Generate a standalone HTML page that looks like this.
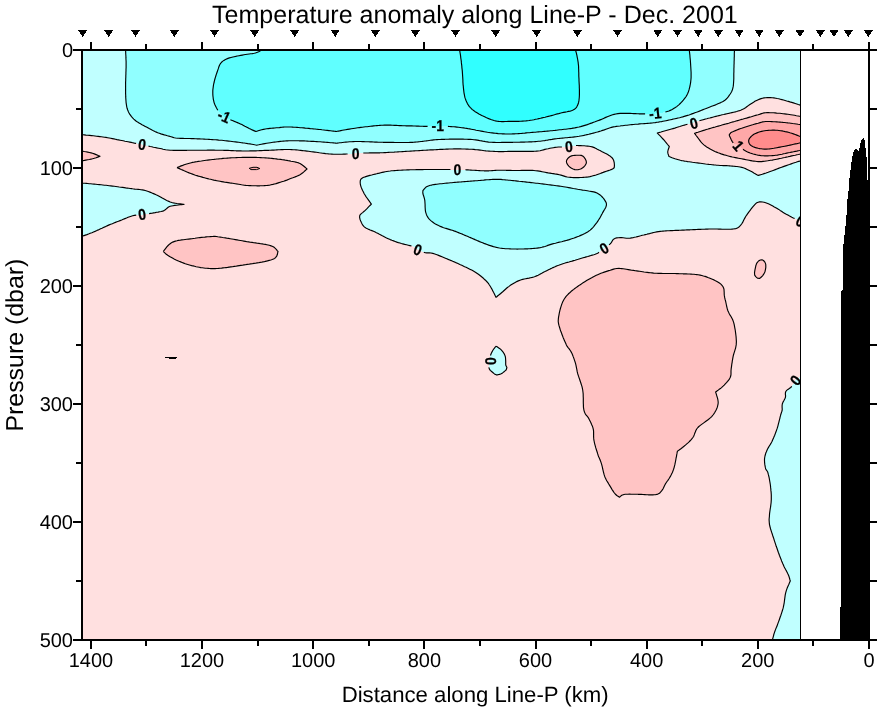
<!DOCTYPE html>
<html><head><meta charset="utf-8"><title>Temperature anomaly along Line-P - Dec. 2001</title>
<style>html,body{margin:0;padding:0;background:#fff}body{width:878px;height:708px;position:relative;overflow:hidden;font-family:"Liberation Sans",Arial,sans-serif}
svg text{font-family:"Liberation Sans",Arial,sans-serif;fill:#000}
</style></head><body>
<svg width="878" height="708" viewBox="0 0 878 708" style="position:absolute;left:0;top:0" shape-rendering="crispEdges">
<rect x="0" y="0" width="878" height="708" fill="#fff"/>
<rect x="82" y="50" width="718.5" height="589.5" fill="#FFE0E0"/>
<path d="M82.0 50.0 L82.0 134.7 L83.0 134.8 L84.3 134.9 L85.9 135.1 L87.7 135.2 L89.6 135.4 L91.5 135.6 L93.3 135.8 L95.0 136.0 L96.6 136.2 L98.2 136.4 L99.8 136.6 L101.3 136.8 L102.9 137.0 L104.5 137.2 L106.0 137.4 L107.6 137.7 L109.2 138.0 L110.7 138.3 L112.3 138.6 L113.9 138.9 L115.4 139.2 L117.0 139.6 L118.5 139.9 L120.1 140.2 L121.7 140.5 L123.3 140.8 L124.9 141.2 L126.5 141.5 L128.1 141.8 L129.7 142.1 L131.2 142.4 L132.6 142.7 L134.4 143.1 L136.1 143.4 L137.7 143.7 L139.2 144.0 L140.7 144.3 L142.2 144.6 L143.9 145.0 L145.4 145.4 L146.9 145.7 L148.5 146.1 L150.2 146.5 L151.8 146.8 L153.4 147.2 L155.1 147.5 L156.8 147.9 L158.5 148.2 L160.2 148.5 L161.7 148.8 L163.0 149.2 L164.3 149.5 L165.7 149.8 L167.7 150.0 L170.2 150.2 L171.4 150.2 L172.6 150.3 L174.0 150.3 L175.4 150.3 L176.9 150.3 L178.5 150.3 L180.1 150.3 L181.8 150.3 L183.5 150.3 L185.2 150.3 L187.0 150.3 L188.7 150.2 L190.4 150.2 L192.1 150.2 L193.7 150.2 L195.3 150.2 L196.9 150.2 L198.4 150.2 L200.0 150.2 L201.6 150.2 L203.1 150.2 L204.7 150.2 L206.2 150.2 L207.8 150.1 L209.4 150.1 L210.9 150.1 L212.5 150.1 L214.0 150.1 L215.6 150.2 L217.2 150.2 L218.7 150.2 L220.3 150.2 L221.9 150.2 L223.4 150.3 L225.0 150.3 L226.6 150.4 L228.1 150.4 L229.7 150.5 L231.3 150.6 L232.9 150.6 L234.4 150.7 L236.0 150.8 L237.6 150.8 L239.1 150.9 L240.7 150.9 L242.3 151.0 L243.8 151.0 L245.4 151.0 L247.0 151.0 L248.6 151.0 L250.2 150.9 L251.8 150.9 L253.4 150.9 L255.0 150.8 L256.6 150.8 L258.2 150.7 L259.8 150.6 L261.4 150.6 L263.0 150.5 L264.5 150.4 L266.0 150.4 L267.5 150.3 L269.0 150.3 L270.4 150.2 L272.1 150.1 L273.7 150.1 L275.3 150.0 L276.8 149.9 L278.3 149.8 L279.8 149.7 L281.2 149.6 L282.7 149.6 L284.1 149.5 L285.6 149.5 L287.0 149.5 L288.5 149.5 L290.0 149.5 L291.5 149.6 L293.1 149.7 L294.6 149.8 L296.1 149.9 L297.7 150.0 L299.2 150.2 L300.7 150.4 L302.3 150.6 L303.8 150.8 L305.4 150.9 L306.9 151.1 L308.5 151.3 L310.0 151.5 L311.5 151.7 L313.1 151.9 L314.7 152.1 L316.3 152.3 L317.8 152.5 L319.4 152.8 L321.0 153.0 L322.6 153.2 L324.1 153.4 L325.6 153.6 L327.1 153.7 L328.6 153.9 L330.1 154.0 L331.8 154.1 L333.6 154.2 L335.3 154.2 L337.1 154.2 L338.8 154.2 L340.4 154.2 L342.0 154.2 L343.6 154.1 L345.0 154.1 L346.4 154.0 L347.6 154.0 L349.8 153.9 L351.4 153.8 L352.7 153.6 L354.0 153.4 L355.6 153.3 L357.0 153.2 L358.5 153.2 L360.0 153.1 L361.6 153.1 L363.3 153.0 L365.2 153.0 L366.6 153.0 L368.2 153.0 L369.8 152.9 L371.5 152.9 L373.2 152.9 L374.9 152.9 L376.7 152.9 L378.4 152.8 L380.0 152.8 L381.5 152.7 L382.9 152.7 L384.2 152.6 L385.5 152.6 L386.9 152.5 L388.4 152.4 L390.0 152.3 L391.9 152.2 L394.1 152.1 L395.3 152.0 L396.6 152.0 L398.0 151.9 L399.4 151.8 L400.9 151.7 L402.5 151.6 L404.1 151.5 L405.7 151.4 L407.4 151.3 L409.0 151.2 L410.7 151.1 L412.4 151.0 L414.2 150.9 L415.8 150.8 L417.5 150.7 L419.2 150.6 L420.8 150.5 L422.4 150.4 L424.0 150.3 L425.6 150.2 L427.2 150.1 L428.8 150.0 L430.4 149.9 L432.1 149.8 L433.7 149.8 L435.3 149.7 L436.9 149.6 L438.6 149.5 L440.1 149.4 L441.7 149.3 L443.3 149.3 L444.8 149.2 L446.3 149.1 L447.8 149.1 L449.2 149.0 L450.6 149.0 L452.3 149.0 L454.0 148.9 L455.7 148.9 L457.3 148.9 L458.9 148.9 L460.5 148.9 L462.0 149.0 L463.5 149.0 L464.9 149.0 L466.4 149.1 L467.8 149.1 L469.1 149.2 L470.5 149.2 L471.8 149.3 L473.6 149.4 L475.3 149.6 L477.0 149.7 L478.5 149.9 L480.1 150.1 L481.6 150.3 L483.0 150.5 L484.5 150.7 L485.9 150.9 L487.3 151.0 L489.0 151.1 L490.7 151.2 L492.4 151.3 L494.0 151.4 L495.6 151.5 L497.1 151.5 L498.6 151.6 L500.0 151.6 L501.8 151.6 L503.4 151.6 L504.9 151.5 L506.5 151.5 L508.1 151.4 L510.0 151.4 L511.4 151.4 L512.8 151.4 L514.4 151.4 L515.9 151.4 L517.6 151.4 L519.2 151.4 L520.8 151.4 L522.4 151.4 L524.0 151.4 L525.6 151.4 L527.2 151.4 L528.9 151.4 L530.6 151.3 L532.2 151.3 L533.8 151.3 L535.3 151.2 L536.8 151.1 L538.1 151.0 L540.1 150.7 L541.8 150.3 L543.4 149.9 L544.9 149.4 L546.6 149.0 L548.2 148.7 L549.9 148.3 L551.6 148.0 L553.4 147.7 L555.0 147.4 L556.5 147.2 L558.5 147.0 L560.3 147.0 L561.9 147.0 L563.5 147.0 L565.5 146.8 L567.4 146.6 L569.2 146.4 L570.7 146.1 L572.2 145.7 L574.8 145.5 L576.0 145.5 L577.4 145.5 L579.0 145.6 L580.7 145.6 L582.4 145.7 L584.2 145.8 L585.9 146.0 L587.6 146.1 L589.1 146.3 L590.4 146.5 L592.2 146.9 L593.6 147.4 L594.9 147.9 L596.1 148.5 L597.3 149.2 L598.8 150.0 L600.1 150.6 L601.6 151.4 L603.2 152.2 L604.7 153.0 L606.3 153.8 L607.7 154.6 L609.0 155.4 L610.1 156.1 L612.0 157.7 L613.0 159.1 L613.7 160.6 L614.2 162.5 L614.4 164.5 L614.4 166.2 L614.2 167.7 L612.9 168.8 L611.7 169.4 L610.1 170.0 L608.3 170.6 L606.4 171.2 L604.5 171.9 L603.2 172.4 L601.8 172.9 L600.4 173.5 L598.9 174.0 L597.5 174.5 L596.0 175.0 L594.6 175.4 L593.0 175.8 L591.5 176.2 L590.0 176.6 L588.4 176.9 L586.7 177.1 L584.7 177.3 L583.4 177.4 L581.9 177.5 L580.3 177.5 L578.6 177.6 L577.0 177.6 L575.3 177.6 L573.6 177.6 L572.0 177.5 L570.5 177.4 L569.2 177.3 L567.3 177.0 L565.6 176.6 L564.1 176.1 L562.6 175.6 L561.0 175.1 L559.3 174.7 L557.8 174.4 L556.3 174.1 L554.7 173.9 L553.1 173.6 L551.5 173.4 L549.8 173.1 L548.2 172.9 L546.6 172.6 L545.1 172.3 L543.6 172.0 L542.1 171.7 L540.7 171.4 L539.2 171.1 L537.6 170.9 L535.8 170.7 L533.9 170.5 L532.6 170.4 L531.2 170.4 L529.7 170.4 L528.1 170.4 L526.5 170.4 L524.9 170.4 L523.3 170.4 L521.6 170.4 L520.0 170.5 L518.4 170.5 L516.9 170.5 L515.5 170.5 L514.1 170.5 L512.3 170.5 L510.6 170.4 L509.0 170.4 L507.5 170.3 L506.0 170.3 L504.5 170.2 L503.1 170.2 L501.6 170.2 L500.0 170.2 L498.4 170.2 L496.9 170.3 L495.4 170.4 L493.8 170.5 L492.3 170.6 L490.7 170.7 L489.0 170.8 L487.3 170.8 L485.4 170.8 L484.0 170.8 L482.5 170.7 L480.9 170.7 L479.3 170.6 L477.6 170.5 L475.8 170.4 L474.1 170.3 L472.5 170.2 L470.8 170.1 L469.3 170.0 L467.9 169.9 L466.6 169.9 L465.4 169.8 L463.0 169.7 L461.3 169.7 L460.0 169.6 L458.7 169.6 L457.4 169.6 L455.9 169.6 L454.7 169.5 L453.0 169.5 L450.4 169.5 L449.3 169.5 L448.0 169.5 L446.7 169.5 L445.2 169.5 L443.6 169.5 L442.0 169.5 L440.3 169.5 L438.6 169.5 L436.9 169.5 L435.2 169.5 L433.5 169.5 L431.9 169.5 L430.3 169.5 L428.8 169.5 L427.2 169.5 L425.7 169.5 L424.1 169.5 L422.6 169.6 L421.1 169.6 L419.5 169.6 L418.0 169.6 L416.5 169.6 L414.9 169.7 L413.4 169.7 L411.8 169.7 L410.3 169.8 L408.7 169.9 L407.2 169.9 L405.6 170.0 L404.0 170.0 L402.3 170.1 L400.7 170.2 L399.1 170.3 L397.6 170.4 L396.0 170.5 L394.5 170.6 L393.0 170.7 L391.6 170.8 L390.2 171.0 L388.5 171.2 L386.8 171.5 L385.2 171.8 L383.7 172.1 L382.2 172.4 L380.8 172.7 L379.4 173.1 L378.0 173.4 L376.6 173.8 L375.2 174.1 L373.4 174.5 L371.7 175.0 L369.9 175.4 L368.2 175.9 L366.5 176.4 L365.1 176.9 L363.8 177.3 L362.7 177.8 L361.0 179.0 L360.4 180.2 L360.2 181.6 L360.2 183.0 L360.4 184.5 L360.8 186.1 L361.4 187.8 L362.0 189.2 L362.6 190.6 L363.4 192.1 L364.2 193.7 L365.2 195.3 L366.0 196.6 L367.0 198.0 L368.0 199.4 L369.1 200.9 L370.0 202.2 L370.8 203.3 L371.4 204.1 L370.5 205.0 L369.3 206.2 L367.9 207.6 L366.5 209.1 L365.2 210.4 L363.9 211.5 L362.6 212.6 L361.3 213.6 L360.3 214.6 L359.7 215.8 L359.6 217.4 L360.0 219.2 L360.7 221.0 L361.4 222.6 L362.1 224.0 L362.8 225.2 L363.8 226.4 L365.2 227.6 L366.3 228.2 L367.5 228.8 L368.8 229.4 L370.2 230.0 L371.8 230.6 L373.5 231.3 L375.2 232.1 L376.4 232.7 L377.7 233.3 L379.0 234.0 L380.4 234.7 L381.8 235.5 L383.3 236.2 L384.7 237.0 L386.1 237.7 L387.6 238.4 L388.9 239.0 L390.2 239.6 L391.9 240.3 L393.6 240.9 L395.2 241.5 L396.8 242.1 L398.4 242.6 L399.9 243.0 L401.4 243.5 L402.8 243.9 L404.7 244.4 L406.5 244.8 L408.3 245.2 L409.9 245.6 L411.5 246.0 L412.8 246.4 L414.7 247.5 L416.1 248.6 L417.8 249.7 L419.1 250.4 L420.6 251.0 L422.2 251.7 L423.8 252.3 L425.3 252.7 L426.7 252.9 L428.1 252.9 L429.4 252.9 L431.0 253.0 L432.8 253.4 L434.1 253.8 L435.5 254.3 L437.0 254.8 L438.6 255.4 L440.3 256.1 L442.0 256.8 L443.7 257.5 L445.4 258.2 L446.8 258.8 L448.2 259.4 L449.7 260.0 L451.2 260.6 L452.7 261.3 L454.3 261.9 L455.8 262.6 L457.4 263.3 L458.9 264.0 L460.4 264.7 L461.8 265.3 L463.2 266.0 L464.6 266.7 L466.1 267.3 L467.5 268.0 L468.9 268.7 L470.3 269.4 L471.7 270.1 L473.0 270.8 L474.2 271.5 L475.4 272.2 L476.9 273.2 L478.4 274.2 L479.7 275.2 L481.0 276.3 L482.2 277.3 L483.4 278.3 L484.4 279.3 L485.4 280.2 L486.7 281.5 L487.7 282.6 L488.6 283.7 L489.4 285.0 L490.4 286.5 L491.1 287.7 L491.9 289.1 L492.7 290.7 L493.5 292.3 L494.3 293.8 L495.0 295.3 L495.6 296.4 L496.0 297.3 L496.8 296.7 L497.8 295.8 L499.1 294.8 L500.4 293.7 L501.8 292.5 L503.0 291.5 L504.1 290.5 L505.2 289.5 L506.3 288.5 L507.4 287.5 L508.7 286.6 L510.0 285.6 L511.2 284.8 L512.5 284.0 L513.8 283.2 L515.2 282.4 L516.7 281.6 L518.3 280.9 L520.0 280.2 L521.3 279.8 L522.7 279.4 L524.2 279.0 L525.8 278.7 L527.4 278.4 L529.0 278.1 L530.6 277.7 L532.2 277.4 L533.7 277.0 L535.1 276.5 L536.6 275.9 L538.1 275.3 L539.5 274.6 L540.8 273.8 L542.2 273.1 L543.5 272.3 L544.9 271.6 L546.2 270.9 L547.6 270.2 L549.0 269.5 L550.3 268.9 L551.7 268.3 L553.0 267.6 L554.4 267.0 L555.7 266.4 L557.2 265.8 L558.6 265.3 L560.1 264.7 L561.5 264.2 L562.9 263.7 L564.4 263.3 L565.9 262.8 L567.4 262.4 L569.0 262.0 L570.5 261.5 L572.1 261.1 L573.6 260.6 L575.1 260.2 L576.6 259.7 L578.2 259.3 L579.9 258.8 L581.5 258.3 L583.1 257.8 L584.7 257.4 L586.2 256.9 L587.7 256.5 L589.0 256.1 L590.2 255.7 L592.2 255.1 L593.8 254.7 L595.2 254.3 L596.4 253.8 L597.7 253.2 L599.0 252.3 L600.3 251.3 L601.5 250.3 L602.8 249.2 L604.0 248.2 L605.3 247.3 L606.6 246.5 L607.9 245.6 L609.1 244.8 L610.2 243.9 L611.3 242.6 L612.1 241.2 L612.9 239.9 L614.0 238.9 L615.3 238.3 L616.7 237.9 L618.3 237.7 L620.2 237.6 L621.6 237.6 L623.1 237.8 L624.7 238.0 L626.4 238.2 L628.3 238.2 L630.3 238.1 L631.6 237.9 L633.0 237.7 L634.4 237.3 L635.9 237.0 L637.5 236.6 L639.1 236.2 L640.6 235.8 L642.2 235.3 L643.8 235.0 L645.3 234.6 L646.8 234.3 L648.1 233.9 L649.5 233.6 L650.8 233.2 L652.2 232.9 L653.6 232.5 L655.1 232.2 L656.7 231.9 L658.4 231.6 L660.3 231.4 L661.6 231.3 L663.0 231.1 L664.4 231.0 L665.9 230.9 L667.4 230.8 L669.0 230.7 L670.6 230.6 L672.2 230.6 L673.9 230.5 L675.5 230.4 L677.2 230.3 L678.9 230.3 L680.5 230.2 L682.2 230.1 L683.8 230.1 L685.4 230.0 L687.0 229.9 L688.6 229.8 L690.1 229.8 L691.7 229.7 L693.3 229.6 L694.9 229.6 L696.5 229.5 L698.1 229.4 L699.7 229.3 L701.3 229.3 L702.8 229.2 L704.4 229.2 L705.9 229.1 L707.5 229.1 L709.0 229.0 L710.5 229.0 L712.1 229.0 L713.8 229.0 L715.4 229.0 L717.1 229.0 L718.8 229.1 L720.5 229.1 L722.1 229.2 L723.8 229.2 L725.3 229.2 L726.8 229.2 L728.3 229.2 L729.7 229.2 L731.0 229.2 L732.1 229.1 L733.2 229.0 L735.7 228.6 L737.4 228.0 L738.6 227.3 L739.6 226.3 L740.7 225.2 L741.6 224.0 L742.5 222.7 L743.2 221.2 L743.9 219.7 L744.8 218.1 L745.7 216.5 L746.5 215.3 L747.5 213.9 L748.4 212.6 L749.5 211.2 L750.5 209.8 L751.4 208.5 L752.4 207.4 L753.2 206.4 L754.6 204.8 L755.7 203.6 L756.8 202.8 L758.2 202.2 L759.5 201.9 L760.9 201.8 L762.4 202.0 L764.0 202.2 L765.7 202.7 L767.0 203.2 L768.4 203.8 L769.9 204.5 L771.3 205.2 L772.8 206.0 L774.3 206.9 L775.8 207.7 L777.2 208.5 L778.7 209.4 L780.1 210.4 L781.5 211.3 L782.9 212.3 L784.4 213.2 L785.8 214.0 L787.3 214.8 L788.8 215.6 L790.4 216.4 L791.9 217.2 L793.3 217.9 L794.6 218.5 L795.8 219.0 L797.9 219.7 L799.5 220.0 L800.5 220.2 L800.5 50.0Z" fill="#C0FFFF"/>
<path d="M800.5 105.2 L799.6 104.9 L798.3 104.5 L796.8 104.0 L795.2 103.5 L793.4 102.9 L791.7 102.4 L789.9 101.9 L788.3 101.4 L786.7 101.0 L785.1 100.5 L783.5 100.0 L781.9 99.6 L780.3 99.2 L778.8 98.8 L777.2 98.5 L775.8 98.2 L773.9 97.9 L772.2 97.7 L770.4 97.6 L768.8 97.6 L767.2 97.6 L765.7 97.7 L764.0 97.9 L762.5 98.2 L761.1 98.6 L759.7 99.1 L758.2 99.7 L756.7 100.4 L755.3 101.1 L753.9 102.0 L752.4 102.9 L750.7 103.9 L749.5 104.7 L748.3 105.6 L747.1 106.5 L745.8 107.5 L744.4 108.4 L742.7 109.3 L740.7 110.2 L739.5 110.6 L738.1 111.0 L736.7 111.5 L735.2 111.9 L733.6 112.2 L731.9 112.6 L730.3 113.0 L728.6 113.4 L726.9 113.7 L725.3 114.1 L723.7 114.5 L722.1 114.8 L720.6 115.2 L719.0 115.6 L717.4 116.0 L715.9 116.4 L714.3 116.8 L712.7 117.2 L711.2 117.6 L709.7 118.0 L708.2 118.3 L706.8 118.7 L705.5 119.0 L704.3 119.4 L703.1 119.7 L701.1 120.3 L699.4 120.8 L697.9 121.3 L696.5 121.8 L695.2 122.2 L693.8 122.6 L692.2 123.0 L690.7 123.4 L689.1 123.8 L687.5 124.2 L685.6 124.7 L684.3 125.1 L682.8 125.5 L681.3 126.0 L679.8 126.5 L678.1 127.0 L676.5 127.5 L674.8 128.1 L673.0 128.6 L671.5 129.0 L669.8 129.5 L668.0 130.0 L666.2 130.5 L664.4 131.0 L662.6 131.5 L661.0 132.0 L659.5 132.4 L658.2 132.7 L657.3 133.0 L658.1 133.8 L659.1 134.9 L660.4 136.2 L661.7 137.6 L663.0 139.0 L664.1 140.2 L665.3 141.7 L666.5 143.1 L667.6 144.5 L668.6 145.7 L669.3 146.5 L668.8 148.0 L668.1 150.0 L667.7 152.0 L668.0 153.7 L668.6 155.4 L669.0 156.5 L669.8 156.8 L670.8 157.2 L672.1 157.7 L673.5 158.2 L675.0 158.8 L676.7 159.3 L678.5 159.8 L680.4 160.3 L681.7 160.6 L683.0 160.8 L684.5 161.1 L686.0 161.3 L687.6 161.6 L689.2 161.8 L690.8 162.0 L692.5 162.3 L694.1 162.5 L695.8 162.7 L697.4 162.9 L698.9 163.1 L700.4 163.3 L702.1 163.5 L703.8 163.7 L705.6 164.0 L707.3 164.2 L709.0 164.4 L710.6 164.5 L712.2 164.7 L713.8 164.9 L715.3 165.0 L716.7 165.2 L718.0 165.3 L720.1 165.5 L721.8 165.5 L723.3 165.6 L724.7 165.6 L726.3 165.6 L728.2 165.8 L729.5 165.9 L730.9 166.0 L732.3 166.1 L733.9 166.2 L735.4 166.4 L737.0 166.5 L738.5 166.7 L740.1 167.0 L741.7 167.4 L743.2 167.8 L744.6 168.3 L746.1 168.9 L747.7 169.7 L749.3 170.5 L750.9 171.3 L752.4 172.1 L753.8 173.0 L755.2 173.7 L756.4 174.4 L757.4 175.0 L758.2 175.4 L759.2 175.1 L760.6 174.7 L762.3 174.2 L764.1 173.6 L766.1 173.0 L768.2 172.3 L769.5 171.8 L770.9 171.3 L772.3 170.8 L773.8 170.2 L775.3 169.6 L776.9 169.0 L778.5 168.4 L780.1 167.8 L781.7 167.2 L783.3 166.6 L784.7 166.1 L786.2 165.6 L787.9 165.0 L789.5 164.5 L791.2 163.9 L792.8 163.3 L794.4 162.8 L796.0 162.3 L797.4 161.8 L798.6 161.4 L799.7 161.1 L800.5 160.8Z" fill="#FFE0E0"/>
<path d="M800.5 116.5 L799.5 116.3 L798.1 116.0 L796.4 115.7 L794.6 115.3 L792.7 115.0 L790.8 114.7 L789.4 114.5 L787.9 114.3 L786.3 114.1 L784.7 113.9 L783.1 113.7 L781.5 113.5 L779.9 113.3 L778.3 113.2 L776.7 113.1 L775.0 112.9 L773.4 112.8 L771.7 112.7 L770.1 112.7 L768.5 112.6 L767.0 112.6 L765.7 112.7 L764.0 112.9 L762.7 113.2 L761.5 113.6 L760.1 114.1 L758.2 114.7 L757.0 115.0 L755.7 115.4 L754.3 115.8 L752.9 116.2 L751.3 116.7 L749.7 117.1 L748.1 117.6 L746.5 118.1 L744.8 118.5 L743.2 119.0 L741.8 119.4 L740.4 119.8 L739.0 120.2 L737.6 120.6 L736.1 121.0 L734.6 121.5 L733.1 121.9 L731.6 122.3 L730.1 122.7 L728.7 123.2 L727.2 123.6 L725.7 124.0 L724.2 124.4 L722.7 124.8 L721.2 125.3 L719.7 125.7 L718.2 126.1 L716.7 126.5 L715.2 127.0 L713.7 127.4 L712.2 127.8 L710.8 128.2 L709.4 128.6 L708.1 129.0 L706.3 129.5 L704.5 130.1 L702.8 130.6 L701.0 131.2 L699.4 131.7 L697.9 132.2 L696.5 132.6 L695.4 133.0 L694.5 133.3 L695.2 134.2 L696.1 135.5 L697.2 136.9 L698.4 138.5 L699.6 140.1 L700.7 141.6 L701.8 142.8 L703.1 144.1 L704.2 145.1 L705.4 146.0 L706.6 146.9 L708.1 147.8 L709.3 148.5 L710.6 149.3 L712.0 150.0 L713.4 150.7 L714.9 151.5 L716.5 152.1 L718.1 152.8 L719.6 153.3 L721.1 153.9 L722.6 154.4 L724.2 154.9 L725.9 155.3 L727.5 155.8 L729.1 156.2 L730.7 156.6 L732.3 157.0 L733.8 157.3 L735.3 157.6 L736.8 157.9 L738.3 158.2 L739.9 158.5 L741.5 158.8 L743.2 159.1 L744.6 159.4 L746.1 159.7 L747.6 160.0 L749.1 160.3 L750.7 160.6 L752.3 160.9 L753.8 161.1 L755.3 161.3 L756.8 161.5 L758.2 161.6 L759.9 161.6 L761.5 161.6 L763.1 161.4 L764.7 161.3 L766.2 161.0 L767.7 160.8 L769.2 160.5 L770.8 160.3 L772.3 160.1 L773.8 159.8 L775.3 159.5 L776.8 159.2 L778.3 158.9 L779.8 158.5 L781.5 158.2 L783.3 157.8 L784.8 157.5 L786.4 157.1 L788.1 156.8 L789.9 156.4 L791.8 155.9 L793.6 155.5 L795.3 155.2 L796.9 154.8 L798.4 154.5 L799.6 154.2 L800.5 154.0Z" fill="#FFC4C4"/>
<path d="M800.5 124.7 L799.5 124.5 L798.1 124.3 L796.4 124.0 L794.6 123.7 L792.7 123.5 L790.8 123.2 L789.4 123.0 L787.9 122.9 L786.3 122.7 L784.7 122.5 L783.1 122.4 L781.5 122.2 L779.9 122.1 L778.3 122.0 L776.7 121.9 L775.0 121.8 L773.4 121.7 L771.7 121.6 L770.1 121.5 L768.5 121.5 L767.0 121.5 L765.7 121.5 L764.0 121.7 L762.7 121.9 L761.5 122.2 L760.1 122.6 L758.2 123.2 L757.0 123.5 L755.6 123.9 L754.2 124.3 L752.6 124.8 L751.0 125.2 L749.4 125.7 L747.8 126.2 L746.2 126.7 L744.6 127.2 L743.2 127.7 L741.6 128.3 L740.0 128.8 L738.4 129.4 L736.9 130.0 L735.4 130.6 L733.9 131.2 L732.7 131.8 L731.6 132.3 L730.7 132.8 L729.3 134.6 L729.4 135.8 L729.9 136.8 L730.6 138.3 L731.4 140.0 L732.3 141.6 L733.2 142.8 L734.7 143.9 L736.4 144.4 L738.2 145.3 L739.3 146.2 L740.5 147.2 L741.7 148.3 L743.0 149.3 L744.4 150.3 L745.7 151.0 L747.1 151.7 L748.6 152.4 L750.1 153.0 L751.6 153.5 L753.2 154.0 L754.8 154.4 L756.3 154.8 L758.0 155.2 L759.6 155.4 L761.4 155.7 L763.2 155.8 L764.7 155.9 L766.2 155.9 L767.7 155.9 L769.3 155.8 L771.0 155.7 L772.6 155.6 L774.2 155.5 L775.8 155.3 L777.4 155.1 L778.9 154.8 L780.5 154.5 L782.1 154.2 L783.6 153.8 L785.2 153.5 L786.8 153.1 L788.3 152.8 L789.9 152.5 L791.7 152.1 L793.4 151.8 L795.2 151.4 L796.8 151.1 L798.3 150.7 L799.6 150.5 L800.5 150.3Z" fill="#FFA8A8"/>
<path d="M800.5 136.5 L799.6 136.2 L798.3 135.7 L796.8 135.1 L795.2 134.5 L793.4 133.9 L791.7 133.3 L789.9 132.8 L788.3 132.3 L786.8 131.9 L785.2 131.6 L783.6 131.2 L782.1 130.9 L780.5 130.7 L778.9 130.5 L777.4 130.3 L775.8 130.2 L774.2 130.1 L772.6 130.1 L771.0 130.2 L769.3 130.2 L767.7 130.4 L766.2 130.5 L764.7 130.7 L763.2 131.0 L761.6 131.4 L760.0 131.8 L758.4 132.3 L757.0 132.9 L755.6 133.5 L754.3 134.1 L753.2 134.8 L751.5 136.1 L750.2 137.5 L749.2 138.9 L748.7 140.3 L748.7 142.1 L749.4 143.8 L750.7 145.3 L751.8 146.1 L753.2 146.8 L754.8 147.4 L756.5 147.9 L758.2 148.3 L759.7 148.6 L761.2 148.8 L762.7 149.0 L764.4 149.1 L766.2 149.1 L768.2 149.0 L769.5 148.9 L770.9 148.7 L772.3 148.5 L773.8 148.3 L775.3 148.0 L776.9 147.7 L778.5 147.4 L780.1 147.1 L781.7 146.8 L783.3 146.5 L784.8 146.2 L786.5 145.9 L788.3 145.5 L790.1 145.1 L791.9 144.7 L793.7 144.3 L795.4 143.9 L797.0 143.6 L798.4 143.3 L799.6 143.0 L800.5 142.8Z" fill="#FF8C8C"/>
<path d="M82.0 183.0 L82.8 183.1 L83.8 183.2 L85.0 183.3 L86.3 183.4 L87.7 183.5 L89.2 183.7 L90.7 183.8 L92.4 184.0 L94.1 184.1 L95.8 184.3 L97.6 184.5 L99.3 184.6 L101.1 184.8 L102.8 185.0 L104.5 185.2 L106.1 185.3 L107.6 185.5 L109.2 185.7 L110.8 185.9 L112.5 186.1 L114.2 186.3 L115.9 186.5 L117.6 186.7 L119.2 187.0 L120.9 187.2 L122.6 187.4 L124.2 187.6 L125.7 187.9 L127.2 188.1 L128.7 188.3 L130.1 188.5 L131.4 188.6 L132.6 188.8 L134.8 189.1 L136.6 189.3 L138.2 189.4 L139.7 189.5 L141.0 189.7 L142.3 189.9 L143.7 190.1 L145.2 190.5 L146.8 191.0 L148.3 191.5 L149.9 192.1 L151.5 192.7 L153.0 193.4 L154.6 194.1 L156.1 194.8 L157.7 195.5 L159.1 196.2 L160.5 196.9 L161.8 197.7 L163.2 198.5 L164.6 199.3 L165.9 200.1 L167.3 200.8 L168.8 201.4 L170.2 202.0 L171.8 202.5 L173.4 202.9 L175.2 203.2 L177.0 203.5 L178.7 203.7 L180.4 203.9 L181.8 204.1 L183.1 204.3 L184.0 204.4 L183.0 204.5 L181.7 204.6 L180.1 204.8 L178.4 205.0 L176.6 205.2 L174.7 205.4 L173.0 205.7 L171.5 206.0 L170.2 206.3 L168.5 207.0 L167.3 208.0 L166.3 208.9 L165.3 209.8 L164.0 210.6 L162.7 211.1 L161.2 211.5 L159.7 211.8 L158.1 212.1 L156.6 212.3 L155.2 212.6 L153.6 212.9 L152.0 213.2 L150.5 213.4 L149.1 213.6 L147.7 213.8 L145.9 214.1 L144.3 214.3 L142.2 214.6 L140.9 214.7 L139.4 214.8 L137.8 214.9 L136.2 215.1 L134.4 215.4 L132.6 215.8 L131.2 216.2 L129.7 216.7 L128.1 217.3 L126.5 218.0 L124.9 218.6 L123.3 219.3 L121.7 220.0 L120.1 220.6 L118.5 221.2 L117.0 221.8 L115.4 222.4 L113.9 223.0 L112.3 223.7 L110.7 224.3 L109.2 224.9 L107.6 225.6 L106.2 226.2 L104.8 226.9 L103.4 227.5 L102.0 228.2 L100.6 228.8 L99.2 229.5 L97.8 230.1 L96.4 230.8 L95.0 231.4 L93.5 232.0 L91.9 232.7 L90.2 233.3 L88.5 234.0 L86.9 234.6 L85.4 235.1 L84.0 235.6 L82.9 236.1 L82.0 236.4Z" fill="#C0FFFF"/>
<path d="M800.5 376.7 L799.6 377.3 L798.3 378.1 L796.9 379.1 L795.6 380.2 L794.6 381.6 L793.8 383.2 L792.9 384.9 L791.8 386.4 L790.7 387.5 L789.3 388.5 L787.9 389.4 L786.7 390.4 L785.8 391.5 L785.4 392.9 L785.4 394.4 L785.6 395.9 L785.4 397.5 L784.7 399.1 L783.8 400.8 L782.9 402.4 L782.3 404.0 L782.1 405.6 L782.1 407.1 L782.2 408.6 L782.2 410.0 L781.9 411.2 L781.5 412.3 L780.8 414.5 L780.5 415.7 L780.1 417.1 L779.8 418.6 L779.3 420.3 L778.9 422.1 L778.4 423.9 L778.0 425.6 L777.5 427.3 L777.0 428.9 L776.4 430.6 L775.8 432.2 L775.2 433.9 L774.6 435.5 L773.9 437.1 L773.3 438.6 L772.6 440.0 L772.0 441.4 L771.1 443.1 L770.2 444.6 L769.3 446.0 L768.5 447.4 L767.7 448.8 L767.0 450.2 L766.4 451.7 L765.8 453.1 L765.4 454.5 L765.0 456.0 L764.7 457.5 L764.5 459.0 L764.5 460.7 L764.6 462.5 L764.8 464.4 L765.1 466.1 L765.4 467.7 L765.7 469.0 L766.6 470.3 L767.7 472.0 L768.0 473.1 L768.3 474.4 L768.7 475.9 L769.1 477.5 L769.4 479.2 L769.7 481.0 L770.0 482.7 L770.3 484.5 L770.5 485.9 L770.6 487.4 L770.8 488.8 L770.9 490.4 L771.1 491.9 L771.2 493.4 L771.3 495.0 L771.3 496.5 L771.3 498.1 L771.3 499.6 L771.2 501.1 L771.1 502.7 L770.9 504.3 L770.7 505.8 L770.5 507.4 L770.2 509.0 L770.0 510.5 L769.8 511.9 L769.6 513.3 L769.5 514.6 L769.4 516.5 L769.2 518.2 L769.1 519.8 L769.2 521.3 L769.3 522.8 L769.5 524.6 L769.8 526.0 L770.2 527.5 L770.6 529.0 L771.1 530.6 L771.6 532.2 L772.2 533.8 L772.7 535.5 L773.3 537.2 L773.8 538.6 L774.2 540.1 L774.7 541.6 L775.2 543.1 L775.7 544.7 L776.2 546.3 L776.8 547.8 L777.3 549.3 L777.8 550.8 L778.3 552.2 L778.9 553.7 L779.4 555.2 L780.0 556.7 L780.5 558.1 L781.1 559.5 L781.6 560.9 L782.2 562.2 L782.7 563.5 L783.3 564.8 L784.0 566.4 L784.8 568.0 L785.6 569.5 L786.4 570.9 L787.1 572.3 L787.7 573.6 L788.3 574.8 L789.1 576.8 L789.6 578.5 L790.0 580.0 L790.3 581.0 L789.9 581.8 L789.4 582.9 L788.9 584.2 L788.2 585.7 L787.5 587.3 L786.9 588.9 L786.3 590.6 L785.8 592.3 L785.5 593.7 L785.2 595.1 L785.0 596.6 L784.8 598.1 L784.6 599.6 L784.4 601.2 L784.2 602.8 L783.9 604.3 L783.6 605.9 L783.3 607.4 L782.9 608.9 L782.4 610.5 L781.9 612.1 L781.4 613.6 L780.9 615.2 L780.3 616.8 L779.8 618.3 L779.3 619.7 L778.8 621.1 L778.3 622.4 L777.7 624.1 L777.1 625.7 L776.5 627.2 L775.9 628.6 L775.4 629.9 L774.9 631.2 L774.5 632.4 L773.8 634.5 L773.3 636.6 L772.8 638.3 L772.5 639.5 L800.5 639.5Z" fill="#C0FFFF"/>
<path d="M496.2 346.2 L497.1 346.8 L498.4 347.7 L499.9 348.7 L501.2 349.9 L502.3 351.2 L503.5 352.7 L504.5 354.4 L505.2 356.2 L505.5 357.6 L505.6 359.2 L505.7 360.9 L505.7 362.6 L505.7 364.1 L505.8 365.2 L506.9 367.5 L506.3 369.7 L505.3 370.6 L504.0 371.8 L502.6 372.9 L501.2 373.7 L499.5 374.4 L497.7 374.8 L496.2 374.8 L494.4 373.9 L492.8 372.5 L491.6 371.5 L490.3 370.4 L489.4 369.2 L488.8 367.3 L488.8 365.2 L488.9 363.6 L489.2 361.8 L489.5 360.0 L489.8 358.5 L490.1 357.0 L490.5 355.5 L491.0 354.0 L491.9 352.1 L492.9 350.3 L493.9 348.8 L495.2 347.2 L496.2 346.2Z" fill="#C0FFFF"/>
<path d="M125.6 50.0 L125.6 50.9 L125.7 52.0 L125.7 53.2 L125.8 54.7 L125.9 56.2 L125.9 57.9 L126.0 59.7 L126.1 61.4 L126.1 63.2 L126.1 65.0 L126.1 66.4 L126.1 67.8 L126.0 69.3 L126.0 70.9 L125.9 72.5 L125.9 74.1 L125.8 75.7 L125.8 77.3 L125.7 78.9 L125.7 80.5 L125.6 82.1 L125.6 83.6 L125.6 85.1 L125.6 86.8 L125.6 88.5 L125.6 90.3 L125.6 92.0 L125.6 93.6 L125.7 95.3 L125.7 96.9 L125.8 98.4 L125.9 99.9 L126.0 101.3 L126.1 102.6 L126.4 104.7 L126.7 106.6 L127.1 108.3 L127.6 109.8 L128.2 111.3 L128.9 112.7 L129.7 114.1 L130.6 115.4 L131.5 116.7 L132.6 117.9 L133.8 119.1 L135.1 120.2 L136.3 121.2 L137.6 122.1 L139.0 122.9 L140.5 123.8 L142.0 124.7 L143.6 125.5 L145.2 126.4 L146.5 127.1 L147.8 127.8 L149.2 128.6 L150.6 129.3 L152.0 130.1 L153.4 130.8 L154.9 131.5 L156.3 132.1 L157.7 132.7 L159.3 133.3 L160.9 133.9 L162.6 134.4 L164.3 134.9 L165.9 135.3 L167.4 135.8 L168.9 136.1 L170.2 136.5 L171.9 137.0 L173.1 137.4 L174.2 137.7 L175.6 138.0 L177.7 138.2 L178.9 138.3 L180.2 138.4 L181.6 138.4 L183.0 138.4 L184.6 138.5 L186.2 138.5 L187.9 138.5 L189.7 138.5 L191.5 138.6 L193.4 138.6 L195.3 138.7 L196.7 138.8 L198.1 138.8 L199.5 138.9 L201.0 139.0 L202.6 139.0 L204.1 139.1 L205.7 139.2 L207.3 139.3 L209.0 139.4 L210.6 139.5 L212.2 139.6 L213.9 139.7 L215.5 139.8 L217.1 139.9 L218.7 140.1 L220.3 140.2 L221.9 140.3 L223.5 140.5 L225.2 140.7 L226.9 140.9 L228.6 141.1 L230.3 141.3 L232.0 141.5 L233.7 141.7 L235.4 141.9 L237.0 142.1 L238.6 142.3 L240.1 142.5 L241.5 142.7 L242.9 142.9 L244.2 143.0 L245.4 143.2 L247.8 143.6 L250.0 143.9 L251.8 144.2 L253.4 144.5 L254.7 144.8 L255.8 145.0 L256.7 145.2 L257.6 145.0 L258.7 144.8 L260.0 144.5 L261.5 144.2 L263.2 143.9 L264.9 143.6 L266.7 143.3 L268.5 143.0 L270.4 142.7 L271.7 142.5 L273.0 142.3 L274.4 142.1 L275.8 142.0 L277.3 141.8 L278.7 141.6 L280.3 141.4 L281.8 141.2 L283.4 141.1 L285.0 141.0 L286.6 140.8 L288.3 140.8 L290.0 140.7 L291.4 140.7 L292.9 140.7 L294.4 140.7 L296.0 140.7 L297.5 140.7 L299.1 140.8 L300.8 140.8 L302.4 140.9 L304.0 140.9 L305.7 141.0 L307.3 141.1 L308.9 141.2 L310.5 141.3 L312.0 141.3 L313.5 141.4 L315.0 141.5 L316.7 141.6 L318.4 141.7 L320.2 141.8 L322.0 142.0 L323.8 142.1 L325.5 142.3 L327.3 142.4 L328.9 142.5 L330.5 142.7 L332.0 142.8 L333.3 142.9 L334.5 143.0 L335.5 143.1 L336.4 143.2 L337.3 143.1 L338.4 143.0 L339.6 142.8 L341.0 142.7 L342.6 142.5 L344.2 142.3 L345.9 142.1 L347.7 142.0 L349.6 141.8 L351.4 141.7 L353.3 141.6 L355.1 141.5 L356.5 141.5 L357.9 141.5 L359.3 141.5 L360.8 141.5 L362.3 141.6 L363.8 141.6 L365.4 141.7 L367.0 141.7 L368.5 141.8 L370.1 141.9 L371.8 141.9 L373.4 142.0 L375.0 142.1 L376.7 142.1 L378.3 142.2 L380.0 142.2 L381.5 142.2 L383.1 142.3 L384.7 142.3 L386.3 142.3 L388.0 142.3 L389.7 142.4 L391.4 142.4 L393.2 142.4 L394.9 142.5 L396.5 142.5 L398.2 142.5 L399.8 142.5 L401.4 142.5 L402.9 142.5 L404.4 142.5 L405.7 142.5 L407.0 142.5 L408.2 142.5 L410.5 142.4 L412.3 142.4 L413.8 142.3 L415.1 142.1 L416.4 142.0 L417.7 141.9 L419.2 141.7 L421.0 141.5 L422.3 141.4 L423.6 141.2 L424.9 141.0 L426.2 140.9 L427.6 140.7 L429.1 140.5 L430.5 140.3 L432.1 140.1 L433.7 139.9 L435.3 139.8 L437.0 139.6 L438.8 139.5 L440.7 139.4 L442.0 139.3 L443.5 139.3 L444.9 139.3 L446.5 139.2 L448.1 139.2 L449.7 139.1 L451.3 139.1 L453.0 139.1 L454.7 139.1 L456.4 139.1 L458.1 139.1 L459.8 139.1 L461.4 139.1 L463.0 139.1 L464.6 139.2 L466.2 139.2 L467.6 139.3 L469.1 139.3 L470.4 139.4 L472.2 139.5 L474.0 139.7 L475.6 139.9 L477.2 140.1 L478.7 140.4 L480.1 140.7 L481.6 140.9 L483.0 141.2 L484.4 141.4 L485.7 141.7 L487.2 141.9 L488.6 142.1 L490.1 142.2 L491.6 142.3 L493.1 142.4 L494.5 142.4 L496.0 142.5 L497.4 142.5 L498.9 142.5 L500.3 142.5 L501.8 142.4 L503.4 142.4 L504.9 142.4 L506.6 142.4 L508.2 142.3 L510.0 142.3 L511.4 142.3 L512.9 142.3 L514.4 142.2 L516.0 142.2 L517.6 142.2 L519.2 142.2 L520.9 142.1 L522.5 142.1 L524.2 142.1 L525.9 142.0 L527.5 142.0 L529.1 141.9 L530.7 141.8 L532.3 141.8 L533.8 141.7 L535.3 141.6 L536.7 141.5 L538.4 141.3 L540.1 141.2 L541.7 141.0 L543.2 140.8 L544.7 140.6 L546.1 140.3 L547.6 140.1 L549.0 139.8 L550.4 139.6 L551.9 139.4 L553.4 139.1 L554.9 138.9 L556.5 138.7 L557.9 138.5 L559.4 138.4 L560.9 138.2 L562.4 138.1 L563.9 138.0 L565.4 137.8 L567.0 137.7 L568.5 137.5 L570.1 137.4 L571.6 137.3 L573.1 137.1 L574.6 136.9 L576.1 136.7 L577.6 136.5 L579.0 136.3 L580.6 136.0 L582.3 135.7 L583.9 135.4 L585.5 135.0 L587.1 134.6 L588.7 134.3 L590.3 133.9 L591.8 133.5 L593.3 133.1 L594.8 132.7 L596.2 132.3 L597.5 132.0 L598.8 131.6 L600.8 131.0 L602.6 130.4 L604.3 129.9 L605.9 129.3 L607.4 128.7 L608.8 128.2 L610.2 127.8 L611.5 127.4 L613.4 126.9 L614.9 126.7 L616.3 126.4 L617.9 126.3 L620.0 126.0 L621.2 125.8 L622.6 125.7 L624.0 125.5 L625.5 125.3 L627.0 125.2 L628.6 125.0 L630.3 124.8 L631.9 124.6 L633.6 124.5 L635.3 124.3 L636.7 124.2 L638.2 124.1 L639.7 123.9 L641.3 123.8 L642.8 123.7 L644.4 123.6 L646.0 123.5 L647.6 123.4 L649.1 123.3 L650.7 123.1 L652.2 123.0 L653.7 122.8 L655.3 122.6 L656.9 122.3 L658.4 122.1 L660.0 121.8 L661.5 121.6 L663.0 121.3 L664.5 121.0 L666.0 120.7 L667.5 120.4 L669.1 120.0 L670.6 119.7 L672.1 119.4 L673.6 119.0 L675.1 118.7 L676.6 118.4 L678.1 118.0 L679.6 117.7 L681.2 117.3 L682.7 116.9 L684.3 116.4 L685.9 115.9 L687.6 115.4 L689.0 115.0 L690.4 114.5 L691.9 113.9 L693.4 113.4 L694.9 112.8 L696.4 112.3 L698.0 111.7 L699.5 111.1 L701.0 110.5 L702.5 109.9 L704.0 109.3 L705.4 108.8 L706.8 108.2 L708.1 107.7 L709.9 107.0 L711.6 106.3 L713.2 105.7 L714.9 105.1 L716.4 104.5 L717.9 103.8 L719.3 103.2 L720.7 102.6 L721.9 102.0 L723.0 101.4 L724.9 100.2 L726.3 99.0 L727.4 97.9 L728.4 96.6 L729.4 95.2 L730.2 94.0 L731.0 92.7 L731.7 91.4 L732.3 90.0 L732.8 88.3 L733.2 86.4 L733.4 85.1 L733.5 83.7 L733.6 82.2 L733.7 80.6 L733.8 79.0 L733.8 77.3 L733.8 75.5 L733.8 73.7 L733.9 71.9 L733.9 70.1 L733.9 68.6 L734.0 67.0 L734.0 65.3 L734.1 63.5 L734.1 61.7 L734.2 59.9 L734.2 58.1 L734.3 56.4 L734.3 54.8 L734.3 53.3 L734.4 52.0 L734.4 50.9 L734.4 50.0Z" fill="#90FFFF"/>
<path d="M261.7 50.0 L260.7 50.6 L259.2 51.4 L257.4 52.3 L255.4 53.0 L254.0 53.3 L252.4 53.6 L250.8 53.8 L249.1 54.0 L247.3 54.2 L245.4 54.5 L243.9 54.8 L242.3 55.1 L240.7 55.4 L239.0 55.7 L237.3 56.0 L235.7 56.4 L234.2 56.7 L232.9 57.0 L231.0 57.5 L229.4 57.9 L228.0 58.4 L226.7 58.9 L225.4 59.5 L223.9 60.4 L222.5 61.4 L221.3 62.5 L220.3 63.8 L219.5 65.2 L218.9 66.7 L218.4 68.4 L217.8 70.1 L217.3 71.5 L216.8 73.0 L216.3 74.4 L215.8 76.0 L215.3 77.6 L214.9 79.0 L214.5 80.5 L214.2 82.0 L213.8 83.5 L213.5 85.0 L213.3 86.4 L213.1 88.0 L212.9 89.4 L212.8 90.9 L212.8 92.3 L212.8 93.9 L212.9 95.6 L213.1 97.3 L213.3 99.1 L213.7 100.9 L214.1 102.6 L214.7 104.3 L215.5 105.9 L216.3 107.5 L217.1 109.0 L217.8 110.2 L219.1 112.0 L220.3 113.2 L221.3 114.2 L222.5 115.3 L224.0 116.4 L225.3 117.2 L226.8 118.0 L228.5 118.8 L230.4 119.7 L231.6 120.2 L233.0 120.8 L234.4 121.4 L235.9 122.0 L237.4 122.6 L238.9 123.2 L240.4 123.9 L241.9 124.6 L243.4 125.4 L244.9 126.2 L246.4 126.9 L247.9 127.7 L249.2 128.4 L250.4 129.0 L252.2 129.9 L253.8 130.6 L255.0 131.1 L255.9 131.5 L256.9 131.2 L258.2 130.8 L259.9 130.3 L261.7 129.8 L263.5 129.4 L265.4 129.0 L266.8 128.8 L268.3 128.6 L269.9 128.4 L271.5 128.2 L273.2 128.1 L274.8 128.0 L276.4 127.8 L278.0 127.7 L279.4 127.6 L280.7 127.4 L282.0 127.3 L283.2 127.1 L284.6 127.0 L286.1 127.0 L287.9 127.0 L290.0 127.0 L291.2 127.0 L292.5 127.1 L293.9 127.2 L295.4 127.3 L297.0 127.4 L298.6 127.5 L300.2 127.7 L301.9 127.8 L303.6 127.9 L305.3 128.1 L307.0 128.2 L308.7 128.4 L310.3 128.6 L312.0 128.7 L313.5 128.9 L315.0 129.0 L316.7 129.2 L318.4 129.4 L320.2 129.5 L322.0 129.8 L323.8 130.0 L325.5 130.2 L327.3 130.4 L328.9 130.6 L330.5 130.8 L332.0 131.0 L333.3 131.1 L334.5 131.3 L335.5 131.4 L336.4 131.5 L337.3 131.3 L338.3 131.1 L339.6 130.9 L340.9 130.6 L342.4 130.3 L344.0 130.0 L345.7 129.7 L347.5 129.4 L349.4 129.1 L351.3 128.8 L353.2 128.5 L355.1 128.2 L356.4 128.0 L357.8 127.8 L359.3 127.6 L360.8 127.4 L362.3 127.2 L363.9 127.0 L365.5 126.8 L367.2 126.7 L368.8 126.5 L370.5 126.3 L372.1 126.1 L373.7 125.9 L375.3 125.8 L376.9 125.6 L378.4 125.5 L379.9 125.4 L381.3 125.3 L382.7 125.2 L384.5 125.1 L386.1 125.1 L387.7 125.1 L389.2 125.1 L390.6 125.1 L392.1 125.2 L393.5 125.3 L394.9 125.3 L396.3 125.4 L397.8 125.5 L399.4 125.6 L401.0 125.6 L402.8 125.7 L404.2 125.7 L405.6 125.8 L407.1 125.8 L408.6 125.9 L410.2 125.9 L411.8 125.9 L413.4 126.0 L415.1 126.0 L416.7 126.1 L418.4 126.1 L420.0 126.2 L421.6 126.2 L423.2 126.3 L424.7 126.3 L426.2 126.3 L427.6 126.4 L429.0 126.4 L430.3 126.4 L432.3 126.4 L434.1 126.4 L435.8 126.4 L437.4 126.4 L439.0 126.3 L440.5 126.3 L441.9 126.3 L443.4 126.3 L444.8 126.3 L446.3 126.3 L447.9 126.4 L449.5 126.5 L451.0 126.6 L452.5 126.7 L454.0 126.8 L455.4 126.9 L456.9 127.1 L458.5 127.3 L460.1 127.5 L461.8 127.7 L463.5 127.9 L465.4 128.2 L466.8 128.4 L468.2 128.7 L469.7 128.9 L471.2 129.2 L472.8 129.5 L474.5 129.8 L476.1 130.2 L477.8 130.5 L479.4 130.8 L481.1 131.1 L482.7 131.4 L484.4 131.7 L485.9 132.0 L487.5 132.3 L489.0 132.5 L490.4 132.7 L492.1 132.9 L493.7 133.1 L495.2 133.3 L496.7 133.4 L498.2 133.6 L499.6 133.7 L501.1 133.8 L502.5 133.9 L503.9 133.9 L505.4 134.0 L506.9 134.0 L508.4 134.0 L510.0 134.0 L511.4 134.0 L512.8 133.9 L514.3 133.9 L515.8 133.8 L517.2 133.7 L518.7 133.6 L520.2 133.5 L521.7 133.4 L523.3 133.2 L524.8 133.1 L526.3 132.9 L527.9 132.8 L529.4 132.7 L531.0 132.5 L532.5 132.4 L534.0 132.3 L535.4 132.2 L536.9 132.0 L538.4 131.9 L539.9 131.8 L541.5 131.7 L543.0 131.5 L544.5 131.4 L546.0 131.3 L547.5 131.1 L549.1 131.0 L550.6 130.8 L552.1 130.7 L553.6 130.5 L555.0 130.4 L556.5 130.2 L558.0 130.0 L559.6 129.8 L561.1 129.7 L562.7 129.5 L564.2 129.3 L565.7 129.2 L567.3 129.0 L568.8 128.8 L570.3 128.6 L571.8 128.4 L573.2 128.1 L574.7 127.9 L576.1 127.6 L577.6 127.3 L579.0 127.0 L580.6 126.6 L582.3 126.1 L584.0 125.6 L585.7 125.1 L587.3 124.6 L589.0 124.0 L590.6 123.4 L592.1 122.9 L593.6 122.3 L595.1 121.8 L596.4 121.3 L597.7 120.8 L598.8 120.4 L600.8 119.6 L602.3 119.0 L603.5 118.4 L604.6 117.9 L605.8 117.4 L607.3 116.8 L608.6 116.3 L609.9 115.8 L611.2 115.3 L612.6 114.8 L614.1 114.4 L615.8 114.0 L617.9 113.6 L620.2 113.4 L621.4 113.3 L622.7 113.3 L624.1 113.3 L625.5 113.3 L627.1 113.3 L628.7 113.4 L630.3 113.4 L632.0 113.5 L633.7 113.6 L635.4 113.6 L637.1 113.7 L638.8 113.8 L640.4 113.8 L642.1 113.9 L643.6 113.9 L645.1 113.9 L646.5 113.9 L647.8 113.9 L649.8 113.8 L651.7 113.7 L653.5 113.6 L655.3 113.5 L656.9 113.3 L658.5 113.2 L660.0 113.0 L661.4 112.8 L662.8 112.5 L664.1 112.3 L665.4 112.0 L667.2 111.5 L668.9 111.0 L670.3 110.4 L671.7 109.8 L672.9 109.1 L674.1 108.3 L675.4 107.5 L676.7 106.6 L677.9 105.6 L679.1 104.6 L680.2 103.5 L681.3 102.4 L682.3 101.3 L683.3 100.2 L684.3 98.9 L685.3 97.7 L686.1 96.5 L686.9 95.1 L687.6 93.7 L688.3 92.0 L688.8 90.6 L689.2 89.2 L689.6 87.6 L690.0 86.0 L690.3 84.3 L690.6 82.6 L690.8 80.8 L691.0 79.0 L691.1 77.5 L691.1 75.9 L691.1 74.2 L691.1 72.5 L691.0 70.8 L690.9 69.0 L690.8 67.3 L690.7 65.7 L690.6 64.1 L690.5 62.6 L690.4 60.8 L690.2 58.9 L690.0 57.0 L689.9 55.3 L689.7 53.6 L689.5 52.2 L689.4 50.9 L689.3 50.0Z" fill="#60FFFF"/>
<path d="M459.6 50.0 L459.8 51.1 L460.0 52.5 L460.3 54.2 L460.6 56.1 L460.8 58.1 L461.1 60.0 L461.3 61.4 L461.4 62.9 L461.6 64.4 L461.8 66.0 L461.9 67.6 L462.1 69.2 L462.3 70.9 L462.4 72.6 L462.5 74.0 L462.6 75.5 L462.7 77.0 L462.8 78.6 L462.9 80.2 L462.9 81.8 L463.0 83.3 L463.1 84.8 L463.3 86.2 L463.4 87.6 L463.6 89.4 L463.8 91.2 L464.0 92.8 L464.3 94.4 L464.6 96.0 L464.9 97.4 L465.4 98.9 L466.0 100.5 L466.7 102.1 L467.4 103.6 L468.3 105.0 L469.2 106.4 L470.4 107.7 L471.4 108.7 L472.4 109.6 L473.6 110.5 L474.8 111.4 L476.1 112.2 L477.4 113.0 L478.9 113.9 L480.4 114.7 L481.7 115.4 L483.1 116.1 L484.6 116.8 L486.1 117.5 L487.7 118.2 L489.3 118.9 L490.9 119.5 L492.4 120.0 L494.0 120.5 L495.5 120.9 L497.1 121.2 L498.7 121.4 L500.3 121.5 L501.8 121.6 L503.4 121.6 L505.0 121.5 L506.6 121.5 L508.3 121.4 L510.0 121.4 L511.5 121.4 L513.0 121.4 L514.6 121.4 L516.1 121.4 L517.7 121.3 L519.4 121.3 L521.0 121.2 L522.6 121.1 L524.3 121.0 L525.9 120.9 L527.5 120.7 L529.1 120.5 L530.7 120.2 L532.4 120.0 L534.0 119.7 L535.6 119.3 L537.3 119.0 L538.9 118.6 L540.5 118.3 L542.1 117.9 L543.6 117.5 L545.1 117.2 L546.7 116.8 L548.3 116.4 L549.9 116.0 L551.4 115.6 L552.9 115.2 L554.4 114.8 L555.9 114.3 L557.3 113.9 L558.7 113.6 L560.1 113.2 L561.8 112.8 L563.6 112.4 L565.3 112.1 L567.0 111.8 L568.6 111.4 L570.1 111.1 L571.4 110.7 L572.6 110.2 L574.5 109.2 L575.8 108.1 L576.8 106.8 L577.7 105.1 L578.2 103.8 L578.6 102.4 L578.9 100.9 L579.1 99.2 L579.3 97.3 L579.4 95.1 L579.4 93.8 L579.4 92.3 L579.4 90.8 L579.4 89.2 L579.3 87.5 L579.3 85.8 L579.2 84.1 L579.1 82.4 L579.0 80.7 L579.0 79.1 L578.9 77.6 L578.8 76.0 L578.8 74.4 L578.8 72.8 L578.7 71.3 L578.7 69.8 L578.6 68.3 L578.6 66.8 L578.5 65.4 L578.3 64.0 L578.2 62.6 L577.9 60.8 L577.6 59.0 L577.2 57.1 L576.9 55.4 L576.5 53.7 L576.1 52.2 L575.8 51.0 L575.6 50.0Z" fill="#30FFFF"/>
<path d="M510.0 180.3 L508.6 180.2 L507.1 180.0 L505.6 179.9 L504.1 179.7 L502.5 179.6 L500.9 179.4 L499.2 179.4 L497.4 179.3 L495.5 179.3 L494.2 179.3 L492.8 179.4 L491.3 179.5 L489.9 179.6 L488.4 179.7 L486.9 179.8 L485.3 179.9 L483.7 180.1 L482.1 180.2 L480.5 180.4 L478.8 180.5 L477.1 180.7 L475.4 180.8 L474.0 180.9 L472.5 181.0 L470.9 181.1 L469.4 181.3 L467.8 181.4 L466.2 181.5 L464.5 181.6 L462.9 181.7 L461.3 181.9 L459.6 182.0 L458.0 182.1 L456.4 182.3 L454.9 182.4 L453.3 182.5 L451.8 182.7 L450.4 182.8 L448.7 183.0 L446.9 183.1 L445.1 183.3 L443.4 183.5 L441.7 183.7 L440.0 183.8 L438.4 184.0 L436.8 184.2 L435.3 184.4 L433.9 184.6 L432.6 184.8 L431.4 185.1 L430.3 185.3 L427.7 186.2 L426.0 187.1 L425.0 188.1 L424.1 189.1 L422.9 190.7 L422.8 192.8 L423.0 194.0 L423.4 195.3 L423.9 196.8 L424.4 198.5 L424.8 200.4 L424.9 201.7 L425.0 203.2 L425.1 204.8 L425.1 206.5 L425.2 208.2 L425.3 209.8 L425.5 211.3 L425.8 212.6 L426.4 214.4 L427.1 216.0 L427.9 217.4 L429.0 218.8 L430.3 220.1 L431.4 221.1 L432.6 222.0 L433.9 223.0 L435.4 223.9 L436.9 224.7 L438.6 225.6 L440.3 226.4 L441.6 226.9 L443.0 227.5 L444.5 228.0 L446.0 228.4 L447.5 228.9 L449.1 229.4 L450.7 229.9 L452.3 230.3 L453.9 230.9 L455.4 231.4 L456.9 232.0 L458.4 232.6 L459.9 233.2 L461.4 233.8 L462.9 234.4 L464.4 235.1 L465.9 235.7 L467.4 236.3 L468.9 237.0 L470.4 237.6 L471.9 238.2 L473.4 238.9 L475.0 239.6 L476.5 240.2 L478.0 240.9 L479.6 241.6 L481.1 242.2 L482.6 242.8 L484.0 243.4 L485.4 243.9 L487.1 244.5 L488.7 245.1 L490.3 245.6 L491.9 246.1 L493.4 246.6 L494.9 247.0 L496.5 247.4 L498.0 247.7 L499.5 248.0 L501.0 248.2 L502.4 248.4 L503.9 248.5 L505.3 248.7 L506.8 248.7 L508.4 248.8 L510.0 248.9 L511.4 249.0 L512.8 249.0 L514.3 249.0 L515.8 249.0 L517.3 249.1 L518.8 249.0 L520.4 249.0 L521.9 249.0 L523.5 249.0 L525.0 248.9 L526.5 248.8 L528.1 248.8 L529.6 248.7 L531.2 248.6 L532.7 248.5 L534.2 248.4 L535.8 248.3 L537.2 248.1 L538.7 247.9 L540.1 247.7 L541.8 247.3 L543.3 246.9 L544.9 246.5 L546.4 246.0 L547.8 245.4 L549.4 244.9 L550.9 244.4 L552.6 243.9 L554.0 243.5 L555.5 243.2 L557.0 242.8 L558.5 242.4 L560.1 242.0 L561.7 241.7 L563.2 241.3 L564.7 240.9 L566.2 240.5 L567.6 240.1 L569.3 239.6 L571.0 239.0 L572.6 238.5 L574.2 238.0 L575.8 237.4 L577.3 236.8 L578.8 236.2 L580.2 235.6 L581.8 234.9 L583.3 234.2 L584.8 233.5 L586.2 232.7 L587.6 231.9 L588.9 231.1 L590.2 230.1 L591.4 229.0 L592.6 227.8 L593.7 226.6 L594.8 225.2 L595.8 223.9 L596.8 222.6 L597.7 221.3 L598.7 219.8 L599.6 218.4 L600.4 216.9 L601.2 215.4 L602.0 214.0 L602.7 212.6 L603.7 210.9 L604.7 209.3 L605.6 207.7 L606.2 206.1 L606.5 204.6 L606.3 203.1 L605.6 201.6 L604.7 200.1 L603.7 198.7 L602.7 197.5 L601.4 196.1 L600.1 194.9 L598.6 193.9 L597.0 193.0 L595.4 192.4 L593.8 191.9 L592.1 191.6 L590.0 191.2 L588.7 191.0 L587.3 190.7 L585.8 190.5 L584.2 190.3 L582.6 190.1 L580.8 189.8 L579.0 189.5 L577.7 189.3 L576.3 189.0 L574.9 188.7 L573.4 188.5 L571.9 188.2 L570.3 187.9 L568.7 187.6 L567.0 187.3 L565.3 187.0 L563.5 186.7 L562.2 186.5 L560.8 186.3 L559.4 186.1 L557.9 185.9 L556.4 185.7 L554.9 185.5 L553.3 185.3 L551.7 185.1 L550.2 184.9 L548.6 184.7 L547.0 184.5 L545.5 184.3 L543.9 184.1 L542.4 183.9 L540.9 183.7 L539.3 183.5 L537.7 183.3 L536.1 183.2 L534.4 183.0 L532.8 182.8 L531.2 182.6 L529.6 182.4 L528.0 182.3 L526.5 182.1 L525.1 181.9 L523.7 181.8 L522.4 181.6 L521.2 181.5 L519.1 181.3 L517.4 181.1 L515.9 180.9 L514.5 180.7 L513.1 180.6 L511.7 180.5 L510.0 180.3Z" fill="#90FFFF"/>
<path d="M82.0 151.0 L83.0 151.2 L84.3 151.5 L85.9 151.8 L87.7 152.1 L89.4 152.5 L91.1 152.9 L92.5 153.3 L94.3 153.9 L96.1 154.6 L97.7 155.3 L99.0 155.9 L100.0 156.3 L99.0 156.6 L97.7 157.1 L96.1 157.7 L94.3 158.3 L92.5 158.8 L91.1 159.1 L89.4 159.5 L87.7 159.8 L85.9 160.1 L84.3 160.4 L83.0 160.6 L82.0 160.8Z" fill="#FFC4C4"/>
<path d="M177.0 167.6 L177.8 167.3 L178.8 166.9 L179.9 166.4 L181.2 165.9 L182.7 165.4 L184.2 164.8 L185.8 164.2 L187.6 163.7 L189.4 163.2 L191.3 162.7 L192.5 162.4 L193.9 162.2 L195.2 161.9 L196.7 161.7 L198.2 161.4 L199.7 161.2 L201.3 161.0 L202.9 160.7 L204.5 160.5 L206.1 160.3 L207.7 160.1 L209.3 159.9 L210.8 159.7 L212.4 159.5 L213.9 159.4 L215.3 159.2 L216.9 159.0 L218.5 158.9 L220.0 158.7 L221.5 158.6 L223.0 158.4 L224.5 158.3 L226.0 158.2 L227.5 158.1 L228.9 158.0 L230.4 157.9 L231.9 157.8 L233.4 157.7 L235.0 157.7 L236.5 157.6 L238.0 157.5 L239.5 157.5 L241.0 157.5 L242.5 157.4 L244.0 157.4 L245.5 157.4 L247.1 157.3 L248.6 157.3 L250.1 157.3 L251.7 157.3 L253.2 157.4 L254.7 157.4 L256.1 157.4 L257.6 157.5 L259.0 157.5 L260.6 157.6 L262.3 157.7 L263.9 157.8 L265.5 157.9 L267.2 158.0 L268.8 158.1 L270.3 158.3 L271.9 158.4 L273.4 158.6 L274.8 158.8 L276.2 158.9 L277.5 159.1 L278.8 159.2 L280.7 159.4 L282.5 159.7 L284.1 159.9 L285.6 160.2 L287.0 160.4 L288.4 160.7 L289.7 160.9 L291.0 161.2 L292.7 161.5 L294.3 161.8 L295.8 162.1 L297.3 162.5 L298.7 162.9 L300.0 163.5 L301.6 164.5 L303.3 165.7 L304.8 167.0 L306.1 168.2 L307.0 169.0 L306.3 169.6 L305.3 170.5 L304.1 171.6 L302.8 172.7 L301.4 173.8 L300.0 174.7 L298.7 175.4 L297.3 176.0 L295.8 176.6 L294.3 177.2 L292.8 177.8 L291.4 178.3 L290.0 178.8 L288.3 179.5 L286.8 180.1 L285.4 180.6 L283.7 181.2 L281.7 181.8 L280.4 182.2 L279.0 182.6 L277.6 183.1 L276.1 183.6 L274.5 184.0 L272.9 184.4 L271.1 184.8 L269.4 185.2 L267.5 185.4 L266.1 185.5 L264.7 185.6 L263.2 185.7 L261.6 185.7 L259.9 185.8 L258.3 185.8 L256.6 185.8 L255.0 185.7 L253.4 185.7 L251.9 185.7 L250.4 185.6 L249.1 185.6 L247.8 185.5 L245.8 185.4 L244.2 185.2 L242.9 185.0 L241.6 184.8 L240.2 184.5 L238.6 184.2 L236.5 183.9 L235.3 183.7 L234.0 183.5 L232.6 183.3 L231.2 183.1 L229.7 182.9 L228.1 182.6 L226.5 182.4 L224.9 182.2 L223.3 181.9 L221.6 181.6 L220.0 181.3 L218.4 181.0 L216.8 180.7 L215.3 180.4 L213.8 180.1 L212.2 179.7 L210.7 179.3 L209.1 179.0 L207.6 178.6 L206.0 178.2 L204.4 177.8 L202.9 177.4 L201.4 176.9 L199.9 176.5 L198.4 176.1 L196.9 175.6 L195.5 175.2 L194.1 174.7 L192.5 174.1 L190.8 173.5 L189.1 172.9 L187.5 172.2 L185.8 171.5 L184.2 170.8 L182.7 170.1 L181.3 169.5 L180.0 168.9 L178.8 168.4 L177.8 167.9 L177.0 167.6Z" fill="#FFC4C4"/>
<path d="M163.2 251.4 L163.9 250.6 L164.7 249.6 L165.7 248.3 L166.8 246.9 L168.1 245.5 L169.5 244.2 L171.1 243.0 L172.7 242.1 L174.0 241.6 L175.4 241.1 L176.9 240.8 L178.4 240.4 L180.0 240.2 L181.7 239.9 L183.4 239.7 L185.1 239.5 L186.8 239.3 L188.6 239.1 L190.3 238.9 L191.8 238.7 L193.3 238.5 L195.0 238.3 L196.6 238.0 L198.3 237.8 L199.9 237.6 L201.6 237.4 L203.2 237.2 L204.8 237.1 L206.3 236.9 L207.7 236.8 L209.1 236.7 L210.3 236.6 L212.4 236.5 L213.8 236.4 L215.0 236.4 L216.2 236.5 L217.9 236.8 L220.3 237.1 L221.5 237.3 L222.7 237.5 L224.1 237.7 L225.5 237.9 L227.0 238.2 L228.6 238.4 L230.2 238.7 L231.9 239.0 L233.6 239.3 L235.3 239.6 L237.1 239.9 L238.8 240.2 L240.5 240.5 L242.2 240.8 L243.8 241.1 L245.4 241.4 L247.0 241.7 L248.6 241.9 L250.3 242.2 L252.1 242.4 L253.8 242.7 L255.5 242.9 L257.3 243.2 L259.0 243.4 L260.7 243.7 L262.3 243.9 L263.9 244.2 L265.4 244.4 L266.8 244.7 L268.1 245.0 L269.3 245.3 L270.4 245.6 L272.8 246.5 L274.5 247.6 L275.8 248.8 L276.7 249.8 L277.4 250.8 L278.0 251.4 L277.7 252.6 L277.4 254.3 L276.7 256.2 L275.5 257.7 L274.5 258.4 L273.5 259.0 L272.2 259.5 L270.8 260.0 L269.2 260.4 L267.4 260.9 L265.4 261.4 L264.2 261.7 L262.9 261.9 L261.6 262.2 L260.1 262.4 L258.7 262.7 L257.1 262.9 L255.5 263.2 L253.9 263.4 L252.3 263.7 L250.6 263.9 L248.9 264.2 L247.1 264.4 L245.4 264.7 L244.0 264.9 L242.4 265.2 L240.9 265.4 L239.2 265.6 L237.6 265.9 L235.9 266.2 L234.2 266.4 L232.5 266.7 L230.9 266.9 L229.2 267.1 L227.6 267.4 L226.0 267.6 L224.5 267.8 L223.0 267.9 L221.6 268.1 L220.3 268.2 L218.4 268.4 L216.7 268.5 L215.1 268.6 L213.6 268.6 L212.2 268.6 L210.8 268.6 L209.5 268.5 L208.1 268.4 L206.8 268.3 L205.3 268.2 L203.8 268.0 L202.3 267.8 L200.7 267.6 L199.2 267.3 L197.7 267.0 L196.1 266.7 L194.6 266.3 L193.1 265.9 L191.7 265.6 L190.3 265.2 L188.6 264.7 L186.9 264.2 L185.3 263.7 L183.7 263.1 L182.1 262.5 L180.6 261.9 L179.1 261.3 L177.7 260.7 L176.1 260.0 L174.5 259.2 L172.9 258.3 L171.5 257.5 L170.1 256.7 L168.8 255.9 L167.7 255.2 L165.6 253.7 L164.2 252.3 L163.2 251.4Z" fill="#FFC4C4"/>
<path d="M566.4 161.5 L566.7 160.1 L567.6 158.7 L568.8 157.5 L570.1 156.5 L571.5 155.9 L573.1 155.5 L574.8 155.4 L576.4 155.3 L578.0 155.2 L579.7 155.2 L581.3 155.4 L582.7 156.0 L584.0 157.2 L585.2 158.8 L586.1 160.7 L586.4 162.3 L586.1 163.8 L585.2 165.3 L584.0 166.7 L582.7 167.8 L581.3 168.7 L579.7 169.3 L578.0 169.7 L576.4 169.8 L574.8 169.6 L573.1 169.0 L571.5 168.3 L570.1 167.3 L568.8 166.1 L567.6 164.6 L566.7 163.0 L566.4 161.5Z" fill="#FFC4C4"/>
<path d="M619.5 497.2 L620.4 496.4 L621.8 495.3 L624.0 494.5 L625.2 494.3 L626.5 494.2 L627.9 494.2 L629.5 494.1 L631.2 494.2 L633.2 494.2 L635.3 494.2 L636.6 494.2 L638.0 494.3 L639.6 494.3 L641.3 494.4 L643.0 494.5 L644.7 494.6 L646.5 494.7 L648.2 494.8 L649.9 494.8 L651.4 494.9 L652.9 494.9 L654.2 494.8 L655.3 494.7 L657.9 494.1 L659.5 493.3 L660.5 492.2 L661.6 490.9 L662.5 489.7 L663.2 488.4 L663.9 486.9 L664.6 485.4 L665.4 483.9 L666.2 482.7 L667.0 481.5 L667.9 480.3 L668.8 479.0 L669.6 477.7 L670.4 476.4 L671.1 475.1 L671.7 473.8 L672.4 472.5 L672.9 471.1 L673.5 469.5 L674.1 467.6 L674.4 466.3 L674.8 464.9 L675.1 463.3 L675.5 461.5 L675.8 459.8 L676.1 458.0 L676.5 456.3 L676.7 454.8 L677.0 453.4 L677.2 452.2 L677.4 451.3 L678.3 450.6 L679.5 449.7 L680.9 448.7 L682.5 447.5 L684.0 446.3 L685.4 445.1 L686.5 444.1 L687.7 443.1 L688.8 442.1 L689.9 441.0 L691.0 439.9 L692.0 438.7 L692.9 437.5 L693.7 436.2 L694.2 434.9 L694.7 433.4 L695.3 432.0 L695.9 430.5 L696.7 429.0 L697.9 427.5 L698.9 426.5 L700.0 425.6 L701.3 424.6 L702.7 423.6 L704.1 422.6 L705.6 421.5 L707.0 420.5 L708.4 419.5 L709.7 418.4 L710.9 417.4 L711.9 416.3 L713.0 415.0 L714.0 413.6 L714.9 412.2 L715.7 410.8 L716.4 409.4 L717.0 408.0 L717.5 406.6 L717.8 405.2 L718.1 403.8 L718.2 402.2 L718.0 400.5 L717.7 398.8 L717.2 397.1 L716.7 395.5 L716.3 394.1 L715.9 392.9 L715.6 392.0 L716.4 391.4 L717.6 390.6 L718.9 389.6 L720.4 388.6 L721.8 387.4 L723.1 386.2 L724.2 385.1 L725.3 383.9 L726.5 382.7 L727.6 381.4 L728.6 380.1 L729.5 378.8 L730.2 377.5 L730.8 375.8 L731.0 374.2 L731.0 372.5 L731.0 370.7 L731.2 368.7 L731.4 367.3 L731.6 365.8 L731.8 364.2 L732.1 362.6 L732.3 361.0 L732.6 359.3 L732.9 357.7 L733.2 356.2 L733.6 354.5 L734.1 352.9 L734.6 351.3 L735.1 349.7 L735.6 348.1 L735.9 346.5 L736.2 344.9 L736.3 343.3 L736.4 341.7 L736.3 340.1 L736.2 338.5 L736.1 336.9 L735.9 335.3 L735.7 333.6 L735.5 332.1 L735.3 330.5 L735.0 328.9 L734.7 327.3 L734.4 325.7 L734.1 324.1 L733.7 322.6 L733.2 321.1 L732.6 319.5 L731.8 318.0 L731.0 316.5 L730.1 315.1 L729.3 313.7 L728.6 312.3 L728.0 311.0 L727.4 309.3 L727.0 307.6 L726.6 306.0 L726.3 304.5 L726.0 303.0 L725.6 301.2 L725.1 299.4 L724.7 297.7 L724.4 295.9 L724.2 294.3 L724.2 292.7 L724.1 291.0 L724.0 289.4 L723.6 288.0 L722.9 286.5 L722.0 285.3 L720.9 284.1 L719.4 283.0 L718.2 282.2 L716.9 281.4 L715.5 280.7 L714.0 279.9 L712.3 279.2 L710.6 278.5 L709.3 278.0 L707.9 277.5 L706.5 276.9 L705.1 276.4 L703.5 276.0 L701.8 275.5 L700.1 275.1 L698.1 274.8 L696.8 274.6 L695.5 274.5 L694.0 274.3 L692.6 274.2 L691.0 274.1 L689.5 274.0 L687.9 274.0 L686.3 273.9 L684.6 273.8 L683.0 273.8 L681.3 273.7 L679.7 273.7 L678.0 273.6 L676.6 273.6 L675.1 273.5 L673.6 273.5 L672.1 273.5 L670.5 273.5 L669.0 273.5 L667.4 273.5 L665.9 273.5 L664.3 273.5 L662.8 273.5 L661.2 273.4 L659.7 273.4 L658.2 273.4 L656.7 273.3 L655.3 273.2 L653.7 273.1 L652.0 272.9 L650.4 272.8 L648.8 272.6 L647.2 272.4 L645.7 272.2 L644.1 272.0 L642.6 271.7 L641.1 271.5 L639.6 271.3 L638.1 271.1 L636.7 270.9 L635.3 270.7 L633.5 270.4 L631.7 270.2 L629.9 269.9 L628.2 269.6 L626.4 269.3 L624.8 269.0 L623.2 268.8 L621.7 268.6 L620.3 268.5 L619.0 268.4 L616.8 268.5 L615.1 268.7 L613.6 269.1 L612.1 269.6 L610.2 270.2 L608.8 270.6 L607.3 271.1 L605.8 271.6 L604.2 272.1 L602.6 272.7 L600.9 273.3 L599.3 274.0 L597.7 274.7 L596.3 275.3 L594.9 276.0 L593.5 276.7 L592.1 277.5 L590.8 278.2 L589.4 279.0 L588.0 279.8 L586.6 280.6 L585.2 281.5 L583.9 282.3 L582.6 283.1 L581.3 284.0 L579.9 284.9 L578.6 285.8 L577.3 286.7 L576.0 287.6 L574.8 288.5 L573.7 289.4 L572.6 290.2 L571.2 291.3 L570.0 292.5 L568.8 293.5 L567.8 294.6 L566.8 295.7 L565.9 296.7 L565.1 297.8 L564.1 299.3 L563.3 300.7 L562.6 302.1 L562.0 303.6 L561.4 305.3 L560.9 306.9 L560.4 308.5 L559.9 310.3 L559.5 312.1 L559.2 313.7 L558.9 315.3 L558.6 316.9 L558.4 318.4 L558.3 319.7 L558.2 321.2 L558.4 322.8 L558.7 324.3 L559.1 325.9 L559.6 327.5 L560.1 329.2 L560.7 331.0 L561.4 332.8 L561.9 334.2 L562.5 335.8 L563.1 337.4 L563.8 339.0 L564.4 340.6 L565.1 342.1 L565.8 343.6 L566.4 344.9 L567.2 346.4 L568.1 347.6 L569.0 348.7 L569.8 349.8 L570.6 351.0 L571.4 352.4 L572.0 353.6 L572.6 355.0 L573.1 356.4 L573.7 357.9 L574.2 359.4 L574.7 360.9 L575.2 362.3 L575.6 363.7 L576.0 365.4 L576.3 366.9 L576.6 368.4 L576.9 369.9 L577.2 371.7 L577.7 373.7 L578.1 374.9 L578.5 376.2 L579.0 377.6 L579.5 379.0 L580.0 380.5 L580.5 382.0 L581.0 383.5 L581.5 385.1 L582.0 386.7 L582.4 388.4 L582.7 390.0 L582.9 391.5 L583.1 393.0 L583.2 394.6 L583.2 396.3 L583.3 398.0 L583.3 399.7 L583.3 401.4 L583.3 403.0 L583.4 404.6 L583.4 406.2 L583.5 407.6 L583.7 408.9 L583.9 410.1 L584.5 412.2 L585.3 413.8 L586.2 415.1 L587.1 416.2 L588.1 417.4 L588.9 418.8 L589.6 420.2 L590.3 421.6 L591.0 423.0 L591.6 424.4 L592.3 425.9 L592.8 427.4 L593.2 428.9 L593.5 430.4 L593.6 431.9 L593.6 433.5 L593.6 435.1 L593.6 436.7 L593.7 438.4 L593.9 440.1 L594.2 441.5 L594.5 443.1 L594.9 444.6 L595.4 446.3 L595.8 447.9 L596.3 449.5 L596.8 451.0 L597.3 452.5 L597.7 453.9 L598.2 455.5 L598.8 457.0 L599.4 458.3 L599.9 459.6 L600.5 461.0 L601.0 462.4 L601.5 463.9 L601.9 465.4 L602.3 466.9 L602.6 468.5 L603.0 470.1 L603.4 471.8 L603.8 473.4 L604.2 474.9 L604.7 476.4 L605.4 478.0 L606.1 479.5 L606.9 481.0 L607.8 482.4 L608.6 483.8 L609.4 485.1 L610.2 486.4 L611.1 487.9 L611.9 489.3 L612.8 490.6 L613.6 491.9 L614.4 493.0 L615.2 494.0 L616.8 495.5 L618.4 496.5 L619.5 497.2Z" fill="#FFC4C4"/>
<path d="M754.5 272.8 L754.7 271.4 L755.0 269.7 L755.4 267.8 L755.8 265.8 L756.4 264.1 L757.0 262.8 L758.5 261.0 L760.3 260.0 L762.0 259.8 L763.5 260.5 L764.9 262.1 L765.7 264.1 L765.8 265.6 L765.8 267.4 L765.5 269.3 L765.1 271.2 L764.5 272.8 L763.7 274.2 L762.7 275.6 L761.6 276.8 L760.5 277.8 L759.5 278.4 L757.4 278.1 L755.7 276.6 L754.7 275.2 L754.5 272.8Z" fill="#FFC4C4"/>
<path d="M82.0 134.7 L83.0 134.8 L84.3 134.9 L85.9 135.1 L87.7 135.2 L89.6 135.4 L91.5 135.6 L93.3 135.8 L95.0 136.0 L96.6 136.2 L98.2 136.4 L99.8 136.6 L101.3 136.8 L102.9 137.0 L104.5 137.2 L106.0 137.4 L107.6 137.7 L109.2 138.0 L110.7 138.3 L112.3 138.6 L113.9 138.9 L115.4 139.2 L117.0 139.6 L118.5 139.9 L120.1 140.2 L121.7 140.5 L123.3 140.8 L124.9 141.2 L126.5 141.5 L128.1 141.8 L129.7 142.1 L131.2 142.4 L132.6 142.7 L134.4 143.1 L136.1 143.4 M148.5 146.1 L150.2 146.5 L151.8 146.8 L153.4 147.2 L155.1 147.5 L156.8 147.9 L158.5 148.2 L160.2 148.5 L161.7 148.8 L163.0 149.2 L164.3 149.5 L165.7 149.8 L167.7 150.0 L170.2 150.2 L171.4 150.2 L172.6 150.3 L174.0 150.3 L175.4 150.3 L176.9 150.3 L178.5 150.3 L180.1 150.3 L181.8 150.3 L183.5 150.3 L185.2 150.3 L187.0 150.3 L188.7 150.2 L190.4 150.2 L192.1 150.2 L193.7 150.2 L195.3 150.2 L196.9 150.2 L198.4 150.2 L200.0 150.2 L201.6 150.2 L203.1 150.2 L204.7 150.2 L206.2 150.2 L207.8 150.1 L209.4 150.1 L210.9 150.1 L212.5 150.1 L214.0 150.1 L215.6 150.2 L217.2 150.2 L218.7 150.2 L220.3 150.2 L221.9 150.2 L223.4 150.3 L225.0 150.3 L226.6 150.4 L228.1 150.4 L229.7 150.5 L231.3 150.6 L232.9 150.6 L234.4 150.7 L236.0 150.8 L237.6 150.8 L239.1 150.9 L240.7 150.9 L242.3 151.0 L243.8 151.0 L245.4 151.0 L247.0 151.0 L248.6 151.0 L250.2 150.9 L251.8 150.9 L253.4 150.9 L255.0 150.8 L256.6 150.8 L258.2 150.7 L259.8 150.6 L261.4 150.6 L263.0 150.5 L264.5 150.4 L266.0 150.4 L267.5 150.3 L269.0 150.3 L270.4 150.2 L272.1 150.1 L273.7 150.1 L275.3 150.0 L276.8 149.9 L278.3 149.8 L279.8 149.7 L281.2 149.6 L282.7 149.6 L284.1 149.5 L285.6 149.5 L287.0 149.5 L288.5 149.5 L290.0 149.5 L291.5 149.6 L293.1 149.7 L294.6 149.8 L296.1 149.9 L297.7 150.0 L299.2 150.2 L300.7 150.4 L302.3 150.6 L303.8 150.8 L305.4 150.9 L306.9 151.1 L308.5 151.3 L310.0 151.5 L311.5 151.7 L313.1 151.9 L314.7 152.1 L316.3 152.3 L317.8 152.5 L319.4 152.8 L321.0 153.0 L322.6 153.2 L324.1 153.4 L325.6 153.6 L327.1 153.7 L328.6 153.9 L330.1 154.0 L331.8 154.1 L333.6 154.2 L335.3 154.2 L337.1 154.2 L338.8 154.2 L340.4 154.2 L342.0 154.2 L343.6 154.1 L345.0 154.1 L346.4 154.0 L347.6 154.0 M363.3 153.0 L365.2 153.0 L366.6 153.0 L368.2 153.0 L369.8 152.9 L371.5 152.9 L373.2 152.9 L374.9 152.9 L376.7 152.9 L378.4 152.8 L380.0 152.8 L381.5 152.7 L382.9 152.7 L384.2 152.6 L385.5 152.6 L386.9 152.5 L388.4 152.4 L390.0 152.3 L391.9 152.2 L394.1 152.1 L395.3 152.0 L396.6 152.0 L398.0 151.9 L399.4 151.8 L400.9 151.7 L402.5 151.6 L404.1 151.5 L405.7 151.4 L407.4 151.3 L409.0 151.2 L410.7 151.1 L412.4 151.0 L414.2 150.9 L415.8 150.8 L417.5 150.7 L419.2 150.6 L420.8 150.5 L422.4 150.4 L424.0 150.3 L425.6 150.2 L427.2 150.1 L428.8 150.0 L430.4 149.9 L432.1 149.8 L433.7 149.8 L435.3 149.7 L436.9 149.6 L438.6 149.5 L440.1 149.4 L441.7 149.3 L443.3 149.3 L444.8 149.2 L446.3 149.1 L447.8 149.1 L449.2 149.0 L450.6 149.0 L452.3 149.0 L454.0 148.9 L455.7 148.9 L457.3 148.9 L458.9 148.9 L460.5 148.9 L462.0 149.0 L463.5 149.0 L464.9 149.0 L466.4 149.1 L467.8 149.1 L469.1 149.2 L470.5 149.2 L471.8 149.3 L473.6 149.4 L475.3 149.6 L477.0 149.7 L478.5 149.9 L480.1 150.1 L481.6 150.3 L483.0 150.5 L484.5 150.7 L485.9 150.9 L487.3 151.0 L489.0 151.1 L490.7 151.2 L492.4 151.3 L494.0 151.4 L495.6 151.5 L497.1 151.5 L498.6 151.6 L500.0 151.6 L501.8 151.6 L503.4 151.6 L504.9 151.5 L506.5 151.5 L508.1 151.4 L510.0 151.4 L511.4 151.4 L512.8 151.4 L514.4 151.4 L515.9 151.4 L517.6 151.4 L519.2 151.4 L520.8 151.4 L522.4 151.4 L524.0 151.4 L525.6 151.4 L527.2 151.4 L528.9 151.4 L530.6 151.3 L532.2 151.3 L533.8 151.3 L535.3 151.2 L536.8 151.1 L538.1 151.0 L540.1 150.7 L541.8 150.3 L543.4 149.9 L544.9 149.4 L546.6 149.0 L548.2 148.7 L549.9 148.3 L551.6 148.0 L553.4 147.7 L555.0 147.4 L556.5 147.2 L558.5 147.0 L560.3 147.0 L561.9 147.0 M576.0 145.5 L577.4 145.5 L579.0 145.6 L580.7 145.6 L582.4 145.7 L584.2 145.8 L585.9 146.0 L587.6 146.1 L589.1 146.3 L590.4 146.5 L592.2 146.9 L593.6 147.4 L594.9 147.9 L596.1 148.5 L597.3 149.2 L598.8 150.0 L600.1 150.6 L601.6 151.4 L603.2 152.2 L604.7 153.0 L606.3 153.8 L607.7 154.6 L609.0 155.4 L610.1 156.1 L612.0 157.7 L613.0 159.1 L613.7 160.6 L614.2 162.5 L614.4 164.5 L614.4 166.2 L614.2 167.7 L612.9 168.8 L611.7 169.4 L610.1 170.0 L608.3 170.6 L606.4 171.2 L604.5 171.9 L603.2 172.4 L601.8 172.9 L600.4 173.5 L598.9 174.0 L597.5 174.5 L596.0 175.0 L594.6 175.4 L593.0 175.8 L591.5 176.2 L590.0 176.6 L588.4 176.9 L586.7 177.1 L584.7 177.3 L583.4 177.4 L581.9 177.5 L580.3 177.5 L578.6 177.6 L577.0 177.6 L575.3 177.6 L573.6 177.6 L572.0 177.5 L570.5 177.4 L569.2 177.3 L567.3 177.0 L565.6 176.6 L564.1 176.1 L562.6 175.6 L561.0 175.1 L559.3 174.7 L557.8 174.4 L556.3 174.1 L554.7 173.9 L553.1 173.6 L551.5 173.4 L549.8 173.1 L548.2 172.9 L546.6 172.6 L545.1 172.3 L543.6 172.0 L542.1 171.7 L540.7 171.4 L539.2 171.1 L537.6 170.9 L535.8 170.7 L533.9 170.5 L532.6 170.4 L531.2 170.4 L529.7 170.4 L528.1 170.4 L526.5 170.4 L524.9 170.4 L523.3 170.4 L521.6 170.4 L520.0 170.5 L518.4 170.5 L516.9 170.5 L515.5 170.5 L514.1 170.5 L512.3 170.5 L510.6 170.4 L509.0 170.4 L507.5 170.3 L506.0 170.3 L504.5 170.2 L503.1 170.2 L501.6 170.2 L500.0 170.2 L498.4 170.2 L496.9 170.3 L495.4 170.4 L493.8 170.5 L492.3 170.6 L490.7 170.7 L489.0 170.8 L487.3 170.8 L485.4 170.8 L484.0 170.8 L482.5 170.7 L480.9 170.7 L479.3 170.6 L477.6 170.5 L475.8 170.4 L474.1 170.3 L472.5 170.2 L470.8 170.1 L469.3 170.0 L467.9 169.9 L466.6 169.9 L465.4 169.8 M450.4 169.5 L449.3 169.5 L448.0 169.5 L446.7 169.5 L445.2 169.5 L443.6 169.5 L442.0 169.5 L440.3 169.5 L438.6 169.5 L436.9 169.5 L435.2 169.5 L433.5 169.5 L431.9 169.5 L430.3 169.5 L428.8 169.5 L427.2 169.5 L425.7 169.5 L424.1 169.5 L422.6 169.6 L421.1 169.6 L419.5 169.6 L418.0 169.6 L416.5 169.6 L414.9 169.7 L413.4 169.7 L411.8 169.7 L410.3 169.8 L408.7 169.9 L407.2 169.9 L405.6 170.0 L404.0 170.0 L402.3 170.1 L400.7 170.2 L399.1 170.3 L397.6 170.4 L396.0 170.5 L394.5 170.6 L393.0 170.7 L391.6 170.8 L390.2 171.0 L388.5 171.2 L386.8 171.5 L385.2 171.8 L383.7 172.1 L382.2 172.4 L380.8 172.7 L379.4 173.1 L378.0 173.4 L376.6 173.8 L375.2 174.1 L373.4 174.5 L371.7 175.0 L369.9 175.4 L368.2 175.9 L366.5 176.4 L365.1 176.9 L363.8 177.3 L362.7 177.8 L361.0 179.0 L360.4 180.2 L360.2 181.6 L360.2 183.0 L360.4 184.5 L360.8 186.1 L361.4 187.8 L362.0 189.2 L362.6 190.6 L363.4 192.1 L364.2 193.7 L365.2 195.3 L366.0 196.6 L367.0 198.0 L368.0 199.4 L369.1 200.9 L370.0 202.2 L370.8 203.3 L371.4 204.1 L370.5 205.0 L369.3 206.2 L367.9 207.6 L366.5 209.1 L365.2 210.4 L363.9 211.5 L362.6 212.6 L361.3 213.6 L360.3 214.6 L359.7 215.8 L359.6 217.4 L360.0 219.2 L360.7 221.0 L361.4 222.6 L362.1 224.0 L362.8 225.2 L363.8 226.4 L365.2 227.6 L366.3 228.2 L367.5 228.8 L368.8 229.4 L370.2 230.0 L371.8 230.6 L373.5 231.3 L375.2 232.1 L376.4 232.7 L377.7 233.3 L379.0 234.0 L380.4 234.7 L381.8 235.5 L383.3 236.2 L384.7 237.0 L386.1 237.7 L387.6 238.4 L388.9 239.0 L390.2 239.6 L391.9 240.3 L393.6 240.9 L395.2 241.5 L396.8 242.1 L398.4 242.6 L399.9 243.0 L401.4 243.5 L402.8 243.9 L404.7 244.4 L406.5 244.8 L408.3 245.2 L409.9 245.6 L411.5 246.0 M423.8 252.3 L425.3 252.7 L426.7 252.9 L428.1 252.9 L429.4 252.9 L431.0 253.0 L432.8 253.4 L434.1 253.8 L435.5 254.3 L437.0 254.8 L438.6 255.4 L440.3 256.1 L442.0 256.8 L443.7 257.5 L445.4 258.2 L446.8 258.8 L448.2 259.4 L449.7 260.0 L451.2 260.6 L452.7 261.3 L454.3 261.9 L455.8 262.6 L457.4 263.3 L458.9 264.0 L460.4 264.7 L461.8 265.3 L463.2 266.0 L464.6 266.7 L466.1 267.3 L467.5 268.0 L468.9 268.7 L470.3 269.4 L471.7 270.1 L473.0 270.8 L474.2 271.5 L475.4 272.2 L476.9 273.2 L478.4 274.2 L479.7 275.2 L481.0 276.3 L482.2 277.3 L483.4 278.3 L484.4 279.3 L485.4 280.2 L486.7 281.5 L487.7 282.6 L488.6 283.7 L489.4 285.0 L490.4 286.5 L491.1 287.7 L491.9 289.1 L492.7 290.7 L493.5 292.3 L494.3 293.8 L495.0 295.3 L495.6 296.4 L496.0 297.3 L496.8 296.7 L497.8 295.8 L499.1 294.8 L500.4 293.7 L501.8 292.5 L503.0 291.5 L504.1 290.5 L505.2 289.5 L506.3 288.5 L507.4 287.5 L508.7 286.6 L510.0 285.6 L511.2 284.8 L512.5 284.0 L513.8 283.2 L515.2 282.4 L516.7 281.6 L518.3 280.9 L520.0 280.2 L521.3 279.8 L522.7 279.4 L524.2 279.0 L525.8 278.7 L527.4 278.4 L529.0 278.1 L530.6 277.7 L532.2 277.4 L533.7 277.0 L535.1 276.5 L536.6 275.9 L538.1 275.3 L539.5 274.6 L540.8 273.8 L542.2 273.1 L543.5 272.3 L544.9 271.6 L546.2 270.9 L547.6 270.2 L549.0 269.5 L550.3 268.9 L551.7 268.3 L553.0 267.6 L554.4 267.0 L555.7 266.4 L557.2 265.8 L558.6 265.3 L560.1 264.7 L561.5 264.2 L562.9 263.7 L564.4 263.3 L565.9 262.8 L567.4 262.4 L569.0 262.0 L570.5 261.5 L572.1 261.1 L573.6 260.6 L575.1 260.2 L576.6 259.7 L578.2 259.3 L579.9 258.8 L581.5 258.3 L583.1 257.8 L584.7 257.4 L586.2 256.9 L587.7 256.5 L589.0 256.1 L590.2 255.7 L592.2 255.1 L593.8 254.7 L595.2 254.3 L596.4 253.8 L597.7 253.2 L599.0 252.3 M609.1 244.8 L610.2 243.9 L611.3 242.6 L612.1 241.2 L612.9 239.9 L614.0 238.9 L615.3 238.3 L616.7 237.9 L618.3 237.7 L620.2 237.6 L621.6 237.6 L623.1 237.8 L624.7 238.0 L626.4 238.2 L628.3 238.2 L630.3 238.1 L631.6 237.9 L633.0 237.7 L634.4 237.3 L635.9 237.0 L637.5 236.6 L639.1 236.2 L640.6 235.8 L642.2 235.3 L643.8 235.0 L645.3 234.6 L646.8 234.3 L648.1 233.9 L649.5 233.6 L650.8 233.2 L652.2 232.9 L653.6 232.5 L655.1 232.2 L656.7 231.9 L658.4 231.6 L660.3 231.4 L661.6 231.3 L663.0 231.1 L664.4 231.0 L665.9 230.9 L667.4 230.8 L669.0 230.7 L670.6 230.6 L672.2 230.6 L673.9 230.5 L675.5 230.4 L677.2 230.3 L678.9 230.3 L680.5 230.2 L682.2 230.1 L683.8 230.1 L685.4 230.0 L687.0 229.9 L688.6 229.8 L690.1 229.8 L691.7 229.7 L693.3 229.6 L694.9 229.6 L696.5 229.5 L698.1 229.4 L699.7 229.3 L701.3 229.3 L702.8 229.2 L704.4 229.2 L705.9 229.1 L707.5 229.1 L709.0 229.0 L710.5 229.0 L712.1 229.0 L713.8 229.0 L715.4 229.0 L717.1 229.0 L718.8 229.1 L720.5 229.1 L722.1 229.2 L723.8 229.2 L725.3 229.2 L726.8 229.2 L728.3 229.2 L729.7 229.2 L731.0 229.2 L732.1 229.1 L733.2 229.0 L735.7 228.6 L737.4 228.0 L738.6 227.3 L739.6 226.3 L740.7 225.2 L741.6 224.0 L742.5 222.7 L743.2 221.2 L743.9 219.7 L744.8 218.1 L745.7 216.5 L746.5 215.3 L747.5 213.9 L748.4 212.6 L749.5 211.2 L750.5 209.8 L751.4 208.5 L752.4 207.4 L753.2 206.4 L754.6 204.8 L755.7 203.6 L756.8 202.8 L758.2 202.2 L759.5 201.9 L760.9 201.8 L762.4 202.0 L764.0 202.2 L765.7 202.7 L767.0 203.2 L768.4 203.8 L769.9 204.5 L771.3 205.2 L772.8 206.0 L774.3 206.9 L775.8 207.7 L777.2 208.5 L778.7 209.4 L780.1 210.4 L781.5 211.3 L782.9 212.3 L784.4 213.2 L785.8 214.0 L787.3 214.8 L788.8 215.6 L790.4 216.4 L791.9 217.2 L793.3 217.9 L794.6 218.5 M800.5 105.2 L799.6 104.9 L798.3 104.5 L796.8 104.0 L795.2 103.5 L793.4 102.9 L791.7 102.4 L789.9 101.9 L788.3 101.4 L786.7 101.0 L785.1 100.5 L783.5 100.0 L781.9 99.6 L780.3 99.2 L778.8 98.8 L777.2 98.5 L775.8 98.2 L773.9 97.9 L772.2 97.7 L770.4 97.6 L768.8 97.6 L767.2 97.6 L765.7 97.7 L764.0 97.9 L762.5 98.2 L761.1 98.6 L759.7 99.1 L758.2 99.7 L756.7 100.4 L755.3 101.1 L753.9 102.0 L752.4 102.9 L750.7 103.9 L749.5 104.7 L748.3 105.6 L747.1 106.5 L745.8 107.5 L744.4 108.4 L742.7 109.3 L740.7 110.2 L739.5 110.6 L738.1 111.0 L736.7 111.5 L735.2 111.9 L733.6 112.2 L731.9 112.6 L730.3 113.0 L728.6 113.4 L726.9 113.7 L725.3 114.1 L723.7 114.5 L722.1 114.8 L720.6 115.2 L719.0 115.6 L717.4 116.0 L715.9 116.4 L714.3 116.8 L712.7 117.2 L711.2 117.6 L709.7 118.0 L708.2 118.3 L706.8 118.7 L705.5 119.0 L704.3 119.4 L703.1 119.7 L701.1 120.3 L699.4 120.8 M687.5 124.2 L685.6 124.7 L684.3 125.1 L682.8 125.5 L681.3 126.0 L679.8 126.5 L678.1 127.0 L676.5 127.5 L674.8 128.1 L673.0 128.6 L671.5 129.0 L669.8 129.5 L668.0 130.0 L666.2 130.5 L664.4 131.0 L662.6 131.5 L661.0 132.0 L659.5 132.4 L658.2 132.7 L657.3 133.0 L658.1 133.8 L659.1 134.9 L660.4 136.2 L661.7 137.6 L663.0 139.0 L664.1 140.2 L665.3 141.7 L666.5 143.1 L667.6 144.5 L668.6 145.7 L669.3 146.5 L668.8 148.0 L668.1 150.0 L667.7 152.0 L668.0 153.7 L668.6 155.4 L669.0 156.5 L669.8 156.8 L670.8 157.2 L672.1 157.7 L673.5 158.2 L675.0 158.8 L676.7 159.3 L678.5 159.8 L680.4 160.3 L681.7 160.6 L683.0 160.8 L684.5 161.1 L686.0 161.3 L687.6 161.6 L689.2 161.8 L690.8 162.0 L692.5 162.3 L694.1 162.5 L695.8 162.7 L697.4 162.9 L698.9 163.1 L700.4 163.3 L702.1 163.5 L703.8 163.7 L705.6 164.0 L707.3 164.2 L709.0 164.4 L710.6 164.5 L712.2 164.7 L713.8 164.9 L715.3 165.0 L716.7 165.2 L718.0 165.3 L720.1 165.5 L721.8 165.5 L723.3 165.6 L724.7 165.6 L726.3 165.6 L728.2 165.8 L729.5 165.9 L730.9 166.0 L732.3 166.1 L733.9 166.2 L735.4 166.4 L737.0 166.5 L738.5 166.7 L740.1 167.0 L741.7 167.4 L743.2 167.8 L744.6 168.3 L746.1 168.9 L747.7 169.7 L749.3 170.5 L750.9 171.3 L752.4 172.1 L753.8 173.0 L755.2 173.7 L756.4 174.4 L757.4 175.0 L758.2 175.4 L759.2 175.1 L760.6 174.7 L762.3 174.2 L764.1 173.6 L766.1 173.0 L768.2 172.3 L769.5 171.8 L770.9 171.3 L772.3 170.8 L773.8 170.2 L775.3 169.6 L776.9 169.0 L778.5 168.4 L780.1 167.8 L781.7 167.2 L783.3 166.6 L784.7 166.1 L786.2 165.6 L787.9 165.0 L789.5 164.5 L791.2 163.9 L792.8 163.3 L794.4 162.8 L796.0 162.3 L797.4 161.8 L798.6 161.4 L799.7 161.1 L800.5 160.8 M800.5 116.5 L799.5 116.3 L798.1 116.0 L796.4 115.7 L794.6 115.3 L792.7 115.0 L790.8 114.7 L789.4 114.5 L787.9 114.3 L786.3 114.1 L784.7 113.9 L783.1 113.7 L781.5 113.5 L779.9 113.3 L778.3 113.2 L776.7 113.1 L775.0 112.9 L773.4 112.8 L771.7 112.7 L770.1 112.7 L768.5 112.6 L767.0 112.6 L765.7 112.7 L764.0 112.9 L762.7 113.2 L761.5 113.6 L760.1 114.1 L758.2 114.7 L757.0 115.0 L755.7 115.4 L754.3 115.8 L752.9 116.2 L751.3 116.7 L749.7 117.1 L748.1 117.6 L746.5 118.1 L744.8 118.5 L743.2 119.0 L741.8 119.4 L740.4 119.8 L739.0 120.2 L737.6 120.6 L736.1 121.0 L734.6 121.5 L733.1 121.9 L731.6 122.3 L730.1 122.7 L728.7 123.2 L727.2 123.6 L725.7 124.0 L724.2 124.4 L722.7 124.8 L721.2 125.3 L719.7 125.7 L718.2 126.1 L716.7 126.5 L715.2 127.0 L713.7 127.4 L712.2 127.8 L710.8 128.2 L709.4 128.6 L708.1 129.0 L706.3 129.5 L704.5 130.1 L702.8 130.6 L701.0 131.2 L699.4 131.7 L697.9 132.2 L696.5 132.6 L695.4 133.0 L694.5 133.3 L695.2 134.2 L696.1 135.5 L697.2 136.9 L698.4 138.5 L699.6 140.1 L700.7 141.6 L701.8 142.8 L703.1 144.1 L704.2 145.1 L705.4 146.0 L706.6 146.9 L708.1 147.8 L709.3 148.5 L710.6 149.3 L712.0 150.0 L713.4 150.7 L714.9 151.5 L716.5 152.1 L718.1 152.8 L719.6 153.3 L721.1 153.9 L722.6 154.4 L724.2 154.9 L725.9 155.3 L727.5 155.8 L729.1 156.2 L730.7 156.6 L732.3 157.0 L733.8 157.3 L735.3 157.6 L736.8 157.9 L738.3 158.2 L739.9 158.5 L741.5 158.8 L743.2 159.1 L744.6 159.4 L746.1 159.7 L747.6 160.0 L749.1 160.3 L750.7 160.6 L752.3 160.9 L753.8 161.1 L755.3 161.3 L756.8 161.5 L758.2 161.6 L759.9 161.6 L761.5 161.6 L763.1 161.4 L764.7 161.3 L766.2 161.0 L767.7 160.8 L769.2 160.5 L770.8 160.3 L772.3 160.1 L773.8 159.8 L775.3 159.5 L776.8 159.2 L778.3 158.9 L779.8 158.5 L781.5 158.2 L783.3 157.8 L784.8 157.5 L786.4 157.1 L788.1 156.8 L789.9 156.4 L791.8 155.9 L793.6 155.5 L795.3 155.2 L796.9 154.8 L798.4 154.5 L799.6 154.2 L800.5 154.0 M800.5 124.7 L799.5 124.5 L798.1 124.3 L796.4 124.0 L794.6 123.7 L792.7 123.5 L790.8 123.2 L789.4 123.0 L787.9 122.9 L786.3 122.7 L784.7 122.5 L783.1 122.4 L781.5 122.2 L779.9 122.1 L778.3 122.0 L776.7 121.9 L775.0 121.8 L773.4 121.7 L771.7 121.6 L770.1 121.5 L768.5 121.5 L767.0 121.5 L765.7 121.5 L764.0 121.7 L762.7 121.9 L761.5 122.2 L760.1 122.6 L758.2 123.2 L757.0 123.5 L755.6 123.9 L754.2 124.3 L752.6 124.8 L751.0 125.2 L749.4 125.7 L747.8 126.2 L746.2 126.7 L744.6 127.2 L743.2 127.7 L741.6 128.3 L740.0 128.8 L738.4 129.4 L736.9 130.0 L735.4 130.6 L733.9 131.2 L732.7 131.8 L731.6 132.3 L730.7 132.8 L729.3 134.6 L729.4 135.8 L729.9 136.8 L730.6 138.3 L731.4 140.0 L732.3 141.6 L733.2 142.8 M743.0 149.3 L744.4 150.3 L745.7 151.0 L747.1 151.7 L748.6 152.4 L750.1 153.0 L751.6 153.5 L753.2 154.0 L754.8 154.4 L756.3 154.8 L758.0 155.2 L759.6 155.4 L761.4 155.7 L763.2 155.8 L764.7 155.9 L766.2 155.9 L767.7 155.9 L769.3 155.8 L771.0 155.7 L772.6 155.6 L774.2 155.5 L775.8 155.3 L777.4 155.1 L778.9 154.8 L780.5 154.5 L782.1 154.2 L783.6 153.8 L785.2 153.5 L786.8 153.1 L788.3 152.8 L789.9 152.5 L791.7 152.1 L793.4 151.8 L795.2 151.4 L796.8 151.1 L798.3 150.7 L799.6 150.5 L800.5 150.3 M800.5 136.5 L799.6 136.2 L798.3 135.7 L796.8 135.1 L795.2 134.5 L793.4 133.9 L791.7 133.3 L789.9 132.8 L788.3 132.3 L786.8 131.9 L785.2 131.6 L783.6 131.2 L782.1 130.9 L780.5 130.7 L778.9 130.5 L777.4 130.3 L775.8 130.2 L774.2 130.1 L772.6 130.1 L771.0 130.2 L769.3 130.2 L767.7 130.4 L766.2 130.5 L764.7 130.7 L763.2 131.0 L761.6 131.4 L760.0 131.8 L758.4 132.3 L757.0 132.9 L755.6 133.5 L754.3 134.1 L753.2 134.8 L751.5 136.1 L750.2 137.5 L749.2 138.9 L748.7 140.3 L748.7 142.1 L749.4 143.8 L750.7 145.3 L751.8 146.1 L753.2 146.8 L754.8 147.4 L756.5 147.9 L758.2 148.3 L759.7 148.6 L761.2 148.8 L762.7 149.0 L764.4 149.1 L766.2 149.1 L768.2 149.0 L769.5 148.9 L770.9 148.7 L772.3 148.5 L773.8 148.3 L775.3 148.0 L776.9 147.7 L778.5 147.4 L780.1 147.1 L781.7 146.8 L783.3 146.5 L784.8 146.2 L786.5 145.9 L788.3 145.5 L790.1 145.1 L791.9 144.7 L793.7 144.3 L795.4 143.9 L797.0 143.6 L798.4 143.3 L799.6 143.0 L800.5 142.8 M82.0 183.0 L82.8 183.1 L83.8 183.2 L85.0 183.3 L86.3 183.4 L87.7 183.5 L89.2 183.7 L90.7 183.8 L92.4 184.0 L94.1 184.1 L95.8 184.3 L97.6 184.5 L99.3 184.6 L101.1 184.8 L102.8 185.0 L104.5 185.2 L106.1 185.3 L107.6 185.5 L109.2 185.7 L110.8 185.9 L112.5 186.1 L114.2 186.3 L115.9 186.5 L117.6 186.7 L119.2 187.0 L120.9 187.2 L122.6 187.4 L124.2 187.6 L125.7 187.9 L127.2 188.1 L128.7 188.3 L130.1 188.5 L131.4 188.6 L132.6 188.8 L134.8 189.1 L136.6 189.3 L138.2 189.4 L139.7 189.5 L141.0 189.7 L142.3 189.9 L143.7 190.1 L145.2 190.5 L146.8 191.0 L148.3 191.5 L149.9 192.1 L151.5 192.7 L153.0 193.4 L154.6 194.1 L156.1 194.8 L157.7 195.5 L159.1 196.2 L160.5 196.9 L161.8 197.7 L163.2 198.5 L164.6 199.3 L165.9 200.1 L167.3 200.8 L168.8 201.4 L170.2 202.0 L171.8 202.5 L173.4 202.9 L175.2 203.2 L177.0 203.5 L178.7 203.7 L180.4 203.9 L181.8 204.1 L183.1 204.3 L184.0 204.4 L183.0 204.5 L181.7 204.6 L180.1 204.8 L178.4 205.0 L176.6 205.2 L174.7 205.4 L173.0 205.7 L171.5 206.0 L170.2 206.3 L168.5 207.0 L167.3 208.0 L166.3 208.9 L165.3 209.8 L164.0 210.6 L162.7 211.1 L161.2 211.5 L159.7 211.8 L158.1 212.1 L156.6 212.3 L155.2 212.6 L153.6 212.9 L152.0 213.2 L150.5 213.4 L149.1 213.6 M136.2 215.1 L134.4 215.4 L132.6 215.8 L131.2 216.2 L129.7 216.7 L128.1 217.3 L126.5 218.0 L124.9 218.6 L123.3 219.3 L121.7 220.0 L120.1 220.6 L118.5 221.2 L117.0 221.8 L115.4 222.4 L113.9 223.0 L112.3 223.7 L110.7 224.3 L109.2 224.9 L107.6 225.6 L106.2 226.2 L104.8 226.9 L103.4 227.5 L102.0 228.2 L100.6 228.8 L99.2 229.5 L97.8 230.1 L96.4 230.8 L95.0 231.4 L93.5 232.0 L91.9 232.7 L90.2 233.3 L88.5 234.0 L86.9 234.6 L85.4 235.1 L84.0 235.6 L82.9 236.1 L82.0 236.4 M791.8 386.4 L790.7 387.5 L789.3 388.5 L787.9 389.4 L786.7 390.4 L785.8 391.5 L785.4 392.9 L785.4 394.4 L785.6 395.9 L785.4 397.5 L784.7 399.1 L783.8 400.8 L782.9 402.4 L782.3 404.0 L782.1 405.6 L782.1 407.1 L782.2 408.6 L782.2 410.0 L781.9 411.2 L781.5 412.3 L780.8 414.5 L780.5 415.7 L780.1 417.1 L779.8 418.6 L779.3 420.3 L778.9 422.1 L778.4 423.9 L778.0 425.6 L777.5 427.3 L777.0 428.9 L776.4 430.6 L775.8 432.2 L775.2 433.9 L774.6 435.5 L773.9 437.1 L773.3 438.6 L772.6 440.0 L772.0 441.4 L771.1 443.1 L770.2 444.6 L769.3 446.0 L768.5 447.4 L767.7 448.8 L767.0 450.2 L766.4 451.7 L765.8 453.1 L765.4 454.5 L765.0 456.0 L764.7 457.5 L764.5 459.0 L764.5 460.7 L764.6 462.5 L764.8 464.4 L765.1 466.1 L765.4 467.7 L765.7 469.0 L766.6 470.3 L767.7 472.0 L768.0 473.1 L768.3 474.4 L768.7 475.9 L769.1 477.5 L769.4 479.2 L769.7 481.0 L770.0 482.7 L770.3 484.5 L770.5 485.9 L770.6 487.4 L770.8 488.8 L770.9 490.4 L771.1 491.9 L771.2 493.4 L771.3 495.0 L771.3 496.5 L771.3 498.1 L771.3 499.6 L771.2 501.1 L771.1 502.7 L770.9 504.3 L770.7 505.8 L770.5 507.4 L770.2 509.0 L770.0 510.5 L769.8 511.9 L769.6 513.3 L769.5 514.6 L769.4 516.5 L769.2 518.2 L769.1 519.8 L769.2 521.3 L769.3 522.8 L769.5 524.6 L769.8 526.0 L770.2 527.5 L770.6 529.0 L771.1 530.6 L771.6 532.2 L772.2 533.8 L772.7 535.5 L773.3 537.2 L773.8 538.6 L774.2 540.1 L774.7 541.6 L775.2 543.1 L775.7 544.7 L776.2 546.3 L776.8 547.8 L777.3 549.3 L777.8 550.8 L778.3 552.2 L778.9 553.7 L779.4 555.2 L780.0 556.7 L780.5 558.1 L781.1 559.5 L781.6 560.9 L782.2 562.2 L782.7 563.5 L783.3 564.8 L784.0 566.4 L784.8 568.0 L785.6 569.5 L786.4 570.9 L787.1 572.3 L787.7 573.6 L788.3 574.8 L789.1 576.8 L789.6 578.5 L790.0 580.0 L790.3 581.0 L789.9 581.8 L789.4 582.9 L788.9 584.2 L788.2 585.7 L787.5 587.3 L786.9 588.9 L786.3 590.6 L785.8 592.3 L785.5 593.7 L785.2 595.1 L785.0 596.6 L784.8 598.1 L784.6 599.6 L784.4 601.2 L784.2 602.8 L783.9 604.3 L783.6 605.9 L783.3 607.4 L782.9 608.9 L782.4 610.5 L781.9 612.1 L781.4 613.6 L780.9 615.2 L780.3 616.8 L779.8 618.3 L779.3 619.7 L778.8 621.1 L778.3 622.4 L777.7 624.1 L777.1 625.7 L776.5 627.2 L775.9 628.6 L775.4 629.9 L774.9 631.2 L774.5 632.4 L773.8 634.5 L773.3 636.6 L772.8 638.3 L772.5 639.5 M496.2 346.2 L497.1 346.8 L498.4 347.7 L499.9 348.7 L501.2 349.9 L502.3 351.2 L503.5 352.7 L504.5 354.4 L505.2 356.2 L505.5 357.6 L505.6 359.2 L505.7 360.9 L505.7 362.6 L505.7 364.1 L505.8 365.2 L506.9 367.5 L506.3 369.7 L505.3 370.6 L504.0 371.8 L502.6 372.9 L501.2 373.7 L499.5 374.4 L497.7 374.8 L496.2 374.8 L494.4 373.9 L492.8 372.5 L491.6 371.5 L490.3 370.4 L489.4 369.2 L488.8 367.3 M490.5 355.5 L491.0 354.0 L491.9 352.1 L492.9 350.3 L493.9 348.8 L495.2 347.2 L496.2 346.2 M125.6 50.0 L125.6 50.9 L125.7 52.0 L125.7 53.2 L125.8 54.7 L125.9 56.2 L125.9 57.9 L126.0 59.7 L126.1 61.4 L126.1 63.2 L126.1 65.0 L126.1 66.4 L126.1 67.8 L126.0 69.3 L126.0 70.9 L125.9 72.5 L125.9 74.1 L125.8 75.7 L125.8 77.3 L125.7 78.9 L125.7 80.5 L125.6 82.1 L125.6 83.6 L125.6 85.1 L125.6 86.8 L125.6 88.5 L125.6 90.3 L125.6 92.0 L125.6 93.6 L125.7 95.3 L125.7 96.9 L125.8 98.4 L125.9 99.9 L126.0 101.3 L126.1 102.6 L126.4 104.7 L126.7 106.6 L127.1 108.3 L127.6 109.8 L128.2 111.3 L128.9 112.7 L129.7 114.1 L130.6 115.4 L131.5 116.7 L132.6 117.9 L133.8 119.1 L135.1 120.2 L136.3 121.2 L137.6 122.1 L139.0 122.9 L140.5 123.8 L142.0 124.7 L143.6 125.5 L145.2 126.4 L146.5 127.1 L147.8 127.8 L149.2 128.6 L150.6 129.3 L152.0 130.1 L153.4 130.8 L154.9 131.5 L156.3 132.1 L157.7 132.7 L159.3 133.3 L160.9 133.9 L162.6 134.4 L164.3 134.9 L165.9 135.3 L167.4 135.8 L168.9 136.1 L170.2 136.5 L171.9 137.0 L173.1 137.4 L174.2 137.7 L175.6 138.0 L177.7 138.2 L178.9 138.3 L180.2 138.4 L181.6 138.4 L183.0 138.4 L184.6 138.5 L186.2 138.5 L187.9 138.5 L189.7 138.5 L191.5 138.6 L193.4 138.6 L195.3 138.7 L196.7 138.8 L198.1 138.8 L199.5 138.9 L201.0 139.0 L202.6 139.0 L204.1 139.1 L205.7 139.2 L207.3 139.3 L209.0 139.4 L210.6 139.5 L212.2 139.6 L213.9 139.7 L215.5 139.8 L217.1 139.9 L218.7 140.1 L220.3 140.2 L221.9 140.3 L223.5 140.5 L225.2 140.7 L226.9 140.9 L228.6 141.1 L230.3 141.3 L232.0 141.5 L233.7 141.7 L235.4 141.9 L237.0 142.1 L238.6 142.3 L240.1 142.5 L241.5 142.7 L242.9 142.9 L244.2 143.0 L245.4 143.2 L247.8 143.6 L250.0 143.9 L251.8 144.2 L253.4 144.5 L254.7 144.8 L255.8 145.0 L256.7 145.2 L257.6 145.0 L258.7 144.8 L260.0 144.5 L261.5 144.2 L263.2 143.9 L264.9 143.6 L266.7 143.3 L268.5 143.0 L270.4 142.7 L271.7 142.5 L273.0 142.3 L274.4 142.1 L275.8 142.0 L277.3 141.8 L278.7 141.6 L280.3 141.4 L281.8 141.2 L283.4 141.1 L285.0 141.0 L286.6 140.8 L288.3 140.8 L290.0 140.7 L291.4 140.7 L292.9 140.7 L294.4 140.7 L296.0 140.7 L297.5 140.7 L299.1 140.8 L300.8 140.8 L302.4 140.9 L304.0 140.9 L305.7 141.0 L307.3 141.1 L308.9 141.2 L310.5 141.3 L312.0 141.3 L313.5 141.4 L315.0 141.5 L316.7 141.6 L318.4 141.7 L320.2 141.8 L322.0 142.0 L323.8 142.1 L325.5 142.3 L327.3 142.4 L328.9 142.5 L330.5 142.7 L332.0 142.8 L333.3 142.9 L334.5 143.0 L335.5 143.1 L336.4 143.2 L337.3 143.1 L338.4 143.0 L339.6 142.8 L341.0 142.7 L342.6 142.5 L344.2 142.3 L345.9 142.1 L347.7 142.0 L349.6 141.8 L351.4 141.7 L353.3 141.6 L355.1 141.5 L356.5 141.5 L357.9 141.5 L359.3 141.5 L360.8 141.5 L362.3 141.6 L363.8 141.6 L365.4 141.7 L367.0 141.7 L368.5 141.8 L370.1 141.9 L371.8 141.9 L373.4 142.0 L375.0 142.1 L376.7 142.1 L378.3 142.2 L380.0 142.2 L381.5 142.2 L383.1 142.3 L384.7 142.3 L386.3 142.3 L388.0 142.3 L389.7 142.4 L391.4 142.4 L393.2 142.4 L394.9 142.5 L396.5 142.5 L398.2 142.5 L399.8 142.5 L401.4 142.5 L402.9 142.5 L404.4 142.5 L405.7 142.5 L407.0 142.5 L408.2 142.5 L410.5 142.4 L412.3 142.4 L413.8 142.3 L415.1 142.1 L416.4 142.0 L417.7 141.9 L419.2 141.7 L421.0 141.5 L422.3 141.4 L423.6 141.2 L424.9 141.0 L426.2 140.9 L427.6 140.7 L429.1 140.5 L430.5 140.3 L432.1 140.1 L433.7 139.9 L435.3 139.8 L437.0 139.6 L438.8 139.5 L440.7 139.4 L442.0 139.3 L443.5 139.3 L444.9 139.3 L446.5 139.2 L448.1 139.2 L449.7 139.1 L451.3 139.1 L453.0 139.1 L454.7 139.1 L456.4 139.1 L458.1 139.1 L459.8 139.1 L461.4 139.1 L463.0 139.1 L464.6 139.2 L466.2 139.2 L467.6 139.3 L469.1 139.3 L470.4 139.4 L472.2 139.5 L474.0 139.7 L475.6 139.9 L477.2 140.1 L478.7 140.4 L480.1 140.7 L481.6 140.9 L483.0 141.2 L484.4 141.4 L485.7 141.7 L487.2 141.9 L488.6 142.1 L490.1 142.2 L491.6 142.3 L493.1 142.4 L494.5 142.4 L496.0 142.5 L497.4 142.5 L498.9 142.5 L500.3 142.5 L501.8 142.4 L503.4 142.4 L504.9 142.4 L506.6 142.4 L508.2 142.3 L510.0 142.3 L511.4 142.3 L512.9 142.3 L514.4 142.2 L516.0 142.2 L517.6 142.2 L519.2 142.2 L520.9 142.1 L522.5 142.1 L524.2 142.1 L525.9 142.0 L527.5 142.0 L529.1 141.9 L530.7 141.8 L532.3 141.8 L533.8 141.7 L535.3 141.6 L536.7 141.5 L538.4 141.3 L540.1 141.2 L541.7 141.0 L543.2 140.8 L544.7 140.6 L546.1 140.3 L547.6 140.1 L549.0 139.8 L550.4 139.6 L551.9 139.4 L553.4 139.1 L554.9 138.9 L556.5 138.7 L557.9 138.5 L559.4 138.4 L560.9 138.2 L562.4 138.1 L563.9 138.0 L565.4 137.8 L567.0 137.7 L568.5 137.5 L570.1 137.4 L571.6 137.3 L573.1 137.1 L574.6 136.9 L576.1 136.7 L577.6 136.5 L579.0 136.3 L580.6 136.0 L582.3 135.7 L583.9 135.4 L585.5 135.0 L587.1 134.6 L588.7 134.3 L590.3 133.9 L591.8 133.5 L593.3 133.1 L594.8 132.7 L596.2 132.3 L597.5 132.0 L598.8 131.6 L600.8 131.0 L602.6 130.4 L604.3 129.9 L605.9 129.3 L607.4 128.7 L608.8 128.2 L610.2 127.8 L611.5 127.4 L613.4 126.9 L614.9 126.7 L616.3 126.4 L617.9 126.3 L620.0 126.0 L621.2 125.8 L622.6 125.7 L624.0 125.5 L625.5 125.3 L627.0 125.2 L628.6 125.0 L630.3 124.8 L631.9 124.6 L633.6 124.5 L635.3 124.3 L636.7 124.2 L638.2 124.1 L639.7 123.9 L641.3 123.8 L642.8 123.7 L644.4 123.6 L646.0 123.5 L647.6 123.4 L649.1 123.3 L650.7 123.1 L652.2 123.0 L653.7 122.8 L655.3 122.6 L656.9 122.3 L658.4 122.1 L660.0 121.8 L661.5 121.6 L663.0 121.3 L664.5 121.0 L666.0 120.7 L667.5 120.4 L669.1 120.0 L670.6 119.7 L672.1 119.4 L673.6 119.0 L675.1 118.7 L676.6 118.4 L678.1 118.0 L679.6 117.7 L681.2 117.3 L682.7 116.9 L684.3 116.4 L685.9 115.9 L687.6 115.4 L689.0 115.0 L690.4 114.5 L691.9 113.9 L693.4 113.4 L694.9 112.8 L696.4 112.3 L698.0 111.7 L699.5 111.1 L701.0 110.5 L702.5 109.9 L704.0 109.3 L705.4 108.8 L706.8 108.2 L708.1 107.7 L709.9 107.0 L711.6 106.3 L713.2 105.7 L714.9 105.1 L716.4 104.5 L717.9 103.8 L719.3 103.2 L720.7 102.6 L721.9 102.0 L723.0 101.4 L724.9 100.2 L726.3 99.0 L727.4 97.9 L728.4 96.6 L729.4 95.2 L730.2 94.0 L731.0 92.7 L731.7 91.4 L732.3 90.0 L732.8 88.3 L733.2 86.4 L733.4 85.1 L733.5 83.7 L733.6 82.2 L733.7 80.6 L733.8 79.0 L733.8 77.3 L733.8 75.5 L733.8 73.7 L733.9 71.9 L733.9 70.1 L733.9 68.6 L734.0 67.0 L734.0 65.3 L734.1 63.5 L734.1 61.7 L734.2 59.9 L734.2 58.1 L734.3 56.4 L734.3 54.8 L734.3 53.3 L734.4 52.0 L734.4 50.9 L734.4 50.0 M261.7 50.0 L260.7 50.6 L259.2 51.4 L257.4 52.3 L255.4 53.0 L254.0 53.3 L252.4 53.6 L250.8 53.8 L249.1 54.0 L247.3 54.2 L245.4 54.5 L243.9 54.8 L242.3 55.1 L240.7 55.4 L239.0 55.7 L237.3 56.0 L235.7 56.4 L234.2 56.7 L232.9 57.0 L231.0 57.5 L229.4 57.9 L228.0 58.4 L226.7 58.9 L225.4 59.5 L223.9 60.4 L222.5 61.4 L221.3 62.5 L220.3 63.8 L219.5 65.2 L218.9 66.7 L218.4 68.4 L217.8 70.1 L217.3 71.5 L216.8 73.0 L216.3 74.4 L215.8 76.0 L215.3 77.6 L214.9 79.0 L214.5 80.5 L214.2 82.0 L213.8 83.5 L213.5 85.0 L213.3 86.4 L213.1 88.0 L212.9 89.4 L212.8 90.9 L212.8 92.3 L212.8 93.9 L212.9 95.6 L213.1 97.3 L213.3 99.1 L213.7 100.9 L214.1 102.6 L214.7 104.3 L215.5 105.9 L216.3 107.5 L217.1 109.0 L217.8 110.2 M230.4 119.7 L231.6 120.2 L233.0 120.8 L234.4 121.4 L235.9 122.0 L237.4 122.6 L238.9 123.2 L240.4 123.9 L241.9 124.6 L243.4 125.4 L244.9 126.2 L246.4 126.9 L247.9 127.7 L249.2 128.4 L250.4 129.0 L252.2 129.9 L253.8 130.6 L255.0 131.1 L255.9 131.5 L256.9 131.2 L258.2 130.8 L259.9 130.3 L261.7 129.8 L263.5 129.4 L265.4 129.0 L266.8 128.8 L268.3 128.6 L269.9 128.4 L271.5 128.2 L273.2 128.1 L274.8 128.0 L276.4 127.8 L278.0 127.7 L279.4 127.6 L280.7 127.4 L282.0 127.3 L283.2 127.1 L284.6 127.0 L286.1 127.0 L287.9 127.0 L290.0 127.0 L291.2 127.0 L292.5 127.1 L293.9 127.2 L295.4 127.3 L297.0 127.4 L298.6 127.5 L300.2 127.7 L301.9 127.8 L303.6 127.9 L305.3 128.1 L307.0 128.2 L308.7 128.4 L310.3 128.6 L312.0 128.7 L313.5 128.9 L315.0 129.0 L316.7 129.2 L318.4 129.4 L320.2 129.5 L322.0 129.8 L323.8 130.0 L325.5 130.2 L327.3 130.4 L328.9 130.6 L330.5 130.8 L332.0 131.0 L333.3 131.1 L334.5 131.3 L335.5 131.4 L336.4 131.5 L337.3 131.3 L338.3 131.1 L339.6 130.9 L340.9 130.6 L342.4 130.3 L344.0 130.0 L345.7 129.7 L347.5 129.4 L349.4 129.1 L351.3 128.8 L353.2 128.5 L355.1 128.2 L356.4 128.0 L357.8 127.8 L359.3 127.6 L360.8 127.4 L362.3 127.2 L363.9 127.0 L365.5 126.8 L367.2 126.7 L368.8 126.5 L370.5 126.3 L372.1 126.1 L373.7 125.9 L375.3 125.8 L376.9 125.6 L378.4 125.5 L379.9 125.4 L381.3 125.3 L382.7 125.2 L384.5 125.1 L386.1 125.1 L387.7 125.1 L389.2 125.1 L390.6 125.1 L392.1 125.2 L393.5 125.3 L394.9 125.3 L396.3 125.4 L397.8 125.5 L399.4 125.6 L401.0 125.6 L402.8 125.7 L404.2 125.7 L405.6 125.8 L407.1 125.8 L408.6 125.9 L410.2 125.9 L411.8 125.9 L413.4 126.0 L415.1 126.0 L416.7 126.1 L418.4 126.1 L420.0 126.2 L421.6 126.2 L423.2 126.3 L424.7 126.3 L426.2 126.3 L427.6 126.4 M447.9 126.4 L449.5 126.5 L451.0 126.6 L452.5 126.7 L454.0 126.8 L455.4 126.9 L456.9 127.1 L458.5 127.3 L460.1 127.5 L461.8 127.7 L463.5 127.9 L465.4 128.2 L466.8 128.4 L468.2 128.7 L469.7 128.9 L471.2 129.2 L472.8 129.5 L474.5 129.8 L476.1 130.2 L477.8 130.5 L479.4 130.8 L481.1 131.1 L482.7 131.4 L484.4 131.7 L485.9 132.0 L487.5 132.3 L489.0 132.5 L490.4 132.7 L492.1 132.9 L493.7 133.1 L495.2 133.3 L496.7 133.4 L498.2 133.6 L499.6 133.7 L501.1 133.8 L502.5 133.9 L503.9 133.9 L505.4 134.0 L506.9 134.0 L508.4 134.0 L510.0 134.0 L511.4 134.0 L512.8 133.9 L514.3 133.9 L515.8 133.8 L517.2 133.7 L518.7 133.6 L520.2 133.5 L521.7 133.4 L523.3 133.2 L524.8 133.1 L526.3 132.9 L527.9 132.8 L529.4 132.7 L531.0 132.5 L532.5 132.4 L534.0 132.3 L535.4 132.2 L536.9 132.0 L538.4 131.9 L539.9 131.8 L541.5 131.7 L543.0 131.5 L544.5 131.4 L546.0 131.3 L547.5 131.1 L549.1 131.0 L550.6 130.8 L552.1 130.7 L553.6 130.5 L555.0 130.4 L556.5 130.2 L558.0 130.0 L559.6 129.8 L561.1 129.7 L562.7 129.5 L564.2 129.3 L565.7 129.2 L567.3 129.0 L568.8 128.8 L570.3 128.6 L571.8 128.4 L573.2 128.1 L574.7 127.9 L576.1 127.6 L577.6 127.3 L579.0 127.0 L580.6 126.6 L582.3 126.1 L584.0 125.6 L585.7 125.1 L587.3 124.6 L589.0 124.0 L590.6 123.4 L592.1 122.9 L593.6 122.3 L595.1 121.8 L596.4 121.3 L597.7 120.8 L598.8 120.4 L600.8 119.6 L602.3 119.0 L603.5 118.4 L604.6 117.9 L605.8 117.4 L607.3 116.8 L608.6 116.3 L609.9 115.8 L611.2 115.3 L612.6 114.8 L614.1 114.4 L615.8 114.0 L617.9 113.6 L620.2 113.4 L621.4 113.3 L622.7 113.3 L624.1 113.3 L625.5 113.3 L627.1 113.3 L628.7 113.4 L630.3 113.4 L632.0 113.5 L633.7 113.6 L635.4 113.6 L637.1 113.7 L638.8 113.8 L640.4 113.8 L642.1 113.9 L643.6 113.9 L645.1 113.9 M665.4 112.0 L667.2 111.5 L668.9 111.0 L670.3 110.4 L671.7 109.8 L672.9 109.1 L674.1 108.3 L675.4 107.5 L676.7 106.6 L677.9 105.6 L679.1 104.6 L680.2 103.5 L681.3 102.4 L682.3 101.3 L683.3 100.2 L684.3 98.9 L685.3 97.7 L686.1 96.5 L686.9 95.1 L687.6 93.7 L688.3 92.0 L688.8 90.6 L689.2 89.2 L689.6 87.6 L690.0 86.0 L690.3 84.3 L690.6 82.6 L690.8 80.8 L691.0 79.0 L691.1 77.5 L691.1 75.9 L691.1 74.2 L691.1 72.5 L691.0 70.8 L690.9 69.0 L690.8 67.3 L690.7 65.7 L690.6 64.1 L690.5 62.6 L690.4 60.8 L690.2 58.9 L690.0 57.0 L689.9 55.3 L689.7 53.6 L689.5 52.2 L689.4 50.9 L689.3 50.0 M459.6 50.0 L459.8 51.1 L460.0 52.5 L460.3 54.2 L460.6 56.1 L460.8 58.1 L461.1 60.0 L461.3 61.4 L461.4 62.9 L461.6 64.4 L461.8 66.0 L461.9 67.6 L462.1 69.2 L462.3 70.9 L462.4 72.6 L462.5 74.0 L462.6 75.5 L462.7 77.0 L462.8 78.6 L462.9 80.2 L462.9 81.8 L463.0 83.3 L463.1 84.8 L463.3 86.2 L463.4 87.6 L463.6 89.4 L463.8 91.2 L464.0 92.8 L464.3 94.4 L464.6 96.0 L464.9 97.4 L465.4 98.9 L466.0 100.5 L466.7 102.1 L467.4 103.6 L468.3 105.0 L469.2 106.4 L470.4 107.7 L471.4 108.7 L472.4 109.6 L473.6 110.5 L474.8 111.4 L476.1 112.2 L477.4 113.0 L478.9 113.9 L480.4 114.7 L481.7 115.4 L483.1 116.1 L484.6 116.8 L486.1 117.5 L487.7 118.2 L489.3 118.9 L490.9 119.5 L492.4 120.0 L494.0 120.5 L495.5 120.9 L497.1 121.2 L498.7 121.4 L500.3 121.5 L501.8 121.6 L503.4 121.6 L505.0 121.5 L506.6 121.5 L508.3 121.4 L510.0 121.4 L511.5 121.4 L513.0 121.4 L514.6 121.4 L516.1 121.4 L517.7 121.3 L519.4 121.3 L521.0 121.2 L522.6 121.1 L524.3 121.0 L525.9 120.9 L527.5 120.7 L529.1 120.5 L530.7 120.2 L532.4 120.0 L534.0 119.7 L535.6 119.3 L537.3 119.0 L538.9 118.6 L540.5 118.3 L542.1 117.9 L543.6 117.5 L545.1 117.2 L546.7 116.8 L548.3 116.4 L549.9 116.0 L551.4 115.6 L552.9 115.2 L554.4 114.8 L555.9 114.3 L557.3 113.9 L558.7 113.6 L560.1 113.2 L561.8 112.8 L563.6 112.4 L565.3 112.1 L567.0 111.8 L568.6 111.4 L570.1 111.1 L571.4 110.7 L572.6 110.2 L574.5 109.2 L575.8 108.1 L576.8 106.8 L577.7 105.1 L578.2 103.8 L578.6 102.4 L578.9 100.9 L579.1 99.2 L579.3 97.3 L579.4 95.1 L579.4 93.8 L579.4 92.3 L579.4 90.8 L579.4 89.2 L579.3 87.5 L579.3 85.8 L579.2 84.1 L579.1 82.4 L579.0 80.7 L579.0 79.1 L578.9 77.6 L578.8 76.0 L578.8 74.4 L578.8 72.8 L578.7 71.3 L578.7 69.8 L578.6 68.3 L578.6 66.8 L578.5 65.4 L578.3 64.0 L578.2 62.6 L577.9 60.8 L577.6 59.0 L577.2 57.1 L576.9 55.4 L576.5 53.7 L576.1 52.2 L575.8 51.0 L575.6 50.0 M510.0 180.3 L508.6 180.2 L507.1 180.0 L505.6 179.9 L504.1 179.7 L502.5 179.6 L500.9 179.4 L499.2 179.4 L497.4 179.3 L495.5 179.3 L494.2 179.3 L492.8 179.4 L491.3 179.5 L489.9 179.6 L488.4 179.7 L486.9 179.8 L485.3 179.9 L483.7 180.1 L482.1 180.2 L480.5 180.4 L478.8 180.5 L477.1 180.7 L475.4 180.8 L474.0 180.9 L472.5 181.0 L470.9 181.1 L469.4 181.3 L467.8 181.4 L466.2 181.5 L464.5 181.6 L462.9 181.7 L461.3 181.9 L459.6 182.0 L458.0 182.1 L456.4 182.3 L454.9 182.4 L453.3 182.5 L451.8 182.7 L450.4 182.8 L448.7 183.0 L446.9 183.1 L445.1 183.3 L443.4 183.5 L441.7 183.7 L440.0 183.8 L438.4 184.0 L436.8 184.2 L435.3 184.4 L433.9 184.6 L432.6 184.8 L431.4 185.1 L430.3 185.3 L427.7 186.2 L426.0 187.1 L425.0 188.1 L424.1 189.1 L422.9 190.7 L422.8 192.8 L423.0 194.0 L423.4 195.3 L423.9 196.8 L424.4 198.5 L424.8 200.4 L424.9 201.7 L425.0 203.2 L425.1 204.8 L425.1 206.5 L425.2 208.2 L425.3 209.8 L425.5 211.3 L425.8 212.6 L426.4 214.4 L427.1 216.0 L427.9 217.4 L429.0 218.8 L430.3 220.1 L431.4 221.1 L432.6 222.0 L433.9 223.0 L435.4 223.9 L436.9 224.7 L438.6 225.6 L440.3 226.4 L441.6 226.9 L443.0 227.5 L444.5 228.0 L446.0 228.4 L447.5 228.9 L449.1 229.4 L450.7 229.9 L452.3 230.3 L453.9 230.9 L455.4 231.4 L456.9 232.0 L458.4 232.6 L459.9 233.2 L461.4 233.8 L462.9 234.4 L464.4 235.1 L465.9 235.7 L467.4 236.3 L468.9 237.0 L470.4 237.6 L471.9 238.2 L473.4 238.9 L475.0 239.6 L476.5 240.2 L478.0 240.9 L479.6 241.6 L481.1 242.2 L482.6 242.8 L484.0 243.4 L485.4 243.9 L487.1 244.5 L488.7 245.1 L490.3 245.6 L491.9 246.1 L493.4 246.6 L494.9 247.0 L496.5 247.4 L498.0 247.7 L499.5 248.0 L501.0 248.2 L502.4 248.4 L503.9 248.5 L505.3 248.7 L506.8 248.7 L508.4 248.8 L510.0 248.9 L511.4 249.0 L512.8 249.0 L514.3 249.0 L515.8 249.0 L517.3 249.1 L518.8 249.0 L520.4 249.0 L521.9 249.0 L523.5 249.0 L525.0 248.9 L526.5 248.8 L528.1 248.8 L529.6 248.7 L531.2 248.6 L532.7 248.5 L534.2 248.4 L535.8 248.3 L537.2 248.1 L538.7 247.9 L540.1 247.7 L541.8 247.3 L543.3 246.9 L544.9 246.5 L546.4 246.0 L547.8 245.4 L549.4 244.9 L550.9 244.4 L552.6 243.9 L554.0 243.5 L555.5 243.2 L557.0 242.8 L558.5 242.4 L560.1 242.0 L561.7 241.7 L563.2 241.3 L564.7 240.9 L566.2 240.5 L567.6 240.1 L569.3 239.6 L571.0 239.0 L572.6 238.5 L574.2 238.0 L575.8 237.4 L577.3 236.8 L578.8 236.2 L580.2 235.6 L581.8 234.9 L583.3 234.2 L584.8 233.5 L586.2 232.7 L587.6 231.9 L588.9 231.1 L590.2 230.1 L591.4 229.0 L592.6 227.8 L593.7 226.6 L594.8 225.2 L595.8 223.9 L596.8 222.6 L597.7 221.3 L598.7 219.8 L599.6 218.4 L600.4 216.9 L601.2 215.4 L602.0 214.0 L602.7 212.6 L603.7 210.9 L604.7 209.3 L605.6 207.7 L606.2 206.1 L606.5 204.6 L606.3 203.1 L605.6 201.6 L604.7 200.1 L603.7 198.7 L602.7 197.5 L601.4 196.1 L600.1 194.9 L598.6 193.9 L597.0 193.0 L595.4 192.4 L593.8 191.9 L592.1 191.6 L590.0 191.2 L588.7 191.0 L587.3 190.7 L585.8 190.5 L584.2 190.3 L582.6 190.1 L580.8 189.8 L579.0 189.5 L577.7 189.3 L576.3 189.0 L574.9 188.7 L573.4 188.5 L571.9 188.2 L570.3 187.9 L568.7 187.6 L567.0 187.3 L565.3 187.0 L563.5 186.7 L562.2 186.5 L560.8 186.3 L559.4 186.1 L557.9 185.9 L556.4 185.7 L554.9 185.5 L553.3 185.3 L551.7 185.1 L550.2 184.9 L548.6 184.7 L547.0 184.5 L545.5 184.3 L543.9 184.1 L542.4 183.9 L540.9 183.7 L539.3 183.5 L537.7 183.3 L536.1 183.2 L534.4 183.0 L532.8 182.8 L531.2 182.6 L529.6 182.4 L528.0 182.3 L526.5 182.1 L525.1 181.9 L523.7 181.8 L522.4 181.6 L521.2 181.5 L519.1 181.3 L517.4 181.1 L515.9 180.9 L514.5 180.7 L513.1 180.6 L511.7 180.5 L510.0 180.3 M82.0 151.0 L83.0 151.2 L84.3 151.5 L85.9 151.8 L87.7 152.1 L89.4 152.5 L91.1 152.9 L92.5 153.3 L94.3 153.9 L96.1 154.6 L97.7 155.3 L99.0 155.9 L100.0 156.3 L99.0 156.6 L97.7 157.1 L96.1 157.7 L94.3 158.3 L92.5 158.8 L91.1 159.1 L89.4 159.5 L87.7 159.8 L85.9 160.1 L84.3 160.4 L83.0 160.6 L82.0 160.8 M177.0 167.6 L177.8 167.3 L178.8 166.9 L179.9 166.4 L181.2 165.9 L182.7 165.4 L184.2 164.8 L185.8 164.2 L187.6 163.7 L189.4 163.2 L191.3 162.7 L192.5 162.4 L193.9 162.2 L195.2 161.9 L196.7 161.7 L198.2 161.4 L199.7 161.2 L201.3 161.0 L202.9 160.7 L204.5 160.5 L206.1 160.3 L207.7 160.1 L209.3 159.9 L210.8 159.7 L212.4 159.5 L213.9 159.4 L215.3 159.2 L216.9 159.0 L218.5 158.9 L220.0 158.7 L221.5 158.6 L223.0 158.4 L224.5 158.3 L226.0 158.2 L227.5 158.1 L228.9 158.0 L230.4 157.9 L231.9 157.8 L233.4 157.7 L235.0 157.7 L236.5 157.6 L238.0 157.5 L239.5 157.5 L241.0 157.5 L242.5 157.4 L244.0 157.4 L245.5 157.4 L247.1 157.3 L248.6 157.3 L250.1 157.3 L251.7 157.3 L253.2 157.4 L254.7 157.4 L256.1 157.4 L257.6 157.5 L259.0 157.5 L260.6 157.6 L262.3 157.7 L263.9 157.8 L265.5 157.9 L267.2 158.0 L268.8 158.1 L270.3 158.3 L271.9 158.4 L273.4 158.6 L274.8 158.8 L276.2 158.9 L277.5 159.1 L278.8 159.2 L280.7 159.4 L282.5 159.7 L284.1 159.9 L285.6 160.2 L287.0 160.4 L288.4 160.7 L289.7 160.9 L291.0 161.2 L292.7 161.5 L294.3 161.8 L295.8 162.1 L297.3 162.5 L298.7 162.9 L300.0 163.5 L301.6 164.5 L303.3 165.7 L304.8 167.0 L306.1 168.2 L307.0 169.0 L306.3 169.6 L305.3 170.5 L304.1 171.6 L302.8 172.7 L301.4 173.8 L300.0 174.7 L298.7 175.4 L297.3 176.0 L295.8 176.6 L294.3 177.2 L292.8 177.8 L291.4 178.3 L290.0 178.8 L288.3 179.5 L286.8 180.1 L285.4 180.6 L283.7 181.2 L281.7 181.8 L280.4 182.2 L279.0 182.6 L277.6 183.1 L276.1 183.6 L274.5 184.0 L272.9 184.4 L271.1 184.8 L269.4 185.2 L267.5 185.4 L266.1 185.5 L264.7 185.6 L263.2 185.7 L261.6 185.7 L259.9 185.8 L258.3 185.8 L256.6 185.8 L255.0 185.7 L253.4 185.7 L251.9 185.7 L250.4 185.6 L249.1 185.6 L247.8 185.5 L245.8 185.4 L244.2 185.2 L242.9 185.0 L241.6 184.8 L240.2 184.5 L238.6 184.2 L236.5 183.9 L235.3 183.7 L234.0 183.5 L232.6 183.3 L231.2 183.1 L229.7 182.9 L228.1 182.6 L226.5 182.4 L224.9 182.2 L223.3 181.9 L221.6 181.6 L220.0 181.3 L218.4 181.0 L216.8 180.7 L215.3 180.4 L213.8 180.1 L212.2 179.7 L210.7 179.3 L209.1 179.0 L207.6 178.6 L206.0 178.2 L204.4 177.8 L202.9 177.4 L201.4 176.9 L199.9 176.5 L198.4 176.1 L196.9 175.6 L195.5 175.2 L194.1 174.7 L192.5 174.1 L190.8 173.5 L189.1 172.9 L187.5 172.2 L185.8 171.5 L184.2 170.8 L182.7 170.1 L181.3 169.5 L180.0 168.9 L178.8 168.4 L177.8 167.9 L177.0 167.6 M163.2 251.4 L163.9 250.6 L164.7 249.6 L165.7 248.3 L166.8 246.9 L168.1 245.5 L169.5 244.2 L171.1 243.0 L172.7 242.1 L174.0 241.6 L175.4 241.1 L176.9 240.8 L178.4 240.4 L180.0 240.2 L181.7 239.9 L183.4 239.7 L185.1 239.5 L186.8 239.3 L188.6 239.1 L190.3 238.9 L191.8 238.7 L193.3 238.5 L195.0 238.3 L196.6 238.0 L198.3 237.8 L199.9 237.6 L201.6 237.4 L203.2 237.2 L204.8 237.1 L206.3 236.9 L207.7 236.8 L209.1 236.7 L210.3 236.6 L212.4 236.5 L213.8 236.4 L215.0 236.4 L216.2 236.5 L217.9 236.8 L220.3 237.1 L221.5 237.3 L222.7 237.5 L224.1 237.7 L225.5 237.9 L227.0 238.2 L228.6 238.4 L230.2 238.7 L231.9 239.0 L233.6 239.3 L235.3 239.6 L237.1 239.9 L238.8 240.2 L240.5 240.5 L242.2 240.8 L243.8 241.1 L245.4 241.4 L247.0 241.7 L248.6 241.9 L250.3 242.2 L252.1 242.4 L253.8 242.7 L255.5 242.9 L257.3 243.2 L259.0 243.4 L260.7 243.7 L262.3 243.9 L263.9 244.2 L265.4 244.4 L266.8 244.7 L268.1 245.0 L269.3 245.3 L270.4 245.6 L272.8 246.5 L274.5 247.6 L275.8 248.8 L276.7 249.8 L277.4 250.8 L278.0 251.4 L277.7 252.6 L277.4 254.3 L276.7 256.2 L275.5 257.7 L274.5 258.4 L273.5 259.0 L272.2 259.5 L270.8 260.0 L269.2 260.4 L267.4 260.9 L265.4 261.4 L264.2 261.7 L262.9 261.9 L261.6 262.2 L260.1 262.4 L258.7 262.7 L257.1 262.9 L255.5 263.2 L253.9 263.4 L252.3 263.7 L250.6 263.9 L248.9 264.2 L247.1 264.4 L245.4 264.7 L244.0 264.9 L242.4 265.2 L240.9 265.4 L239.2 265.6 L237.6 265.9 L235.9 266.2 L234.2 266.4 L232.5 266.7 L230.9 266.9 L229.2 267.1 L227.6 267.4 L226.0 267.6 L224.5 267.8 L223.0 267.9 L221.6 268.1 L220.3 268.2 L218.4 268.4 L216.7 268.5 L215.1 268.6 L213.6 268.6 L212.2 268.6 L210.8 268.6 L209.5 268.5 L208.1 268.4 L206.8 268.3 L205.3 268.2 L203.8 268.0 L202.3 267.8 L200.7 267.6 L199.2 267.3 L197.7 267.0 L196.1 266.7 L194.6 266.3 L193.1 265.9 L191.7 265.6 L190.3 265.2 L188.6 264.7 L186.9 264.2 L185.3 263.7 L183.7 263.1 L182.1 262.5 L180.6 261.9 L179.1 261.3 L177.7 260.7 L176.1 260.0 L174.5 259.2 L172.9 258.3 L171.5 257.5 L170.1 256.7 L168.8 255.9 L167.7 255.2 L165.6 253.7 L164.2 252.3 L163.2 251.4 M566.4 161.5 L566.7 160.1 L567.6 158.7 L568.8 157.5 L570.1 156.5 L571.5 155.9 L573.1 155.5 L574.8 155.4 L576.4 155.3 L578.0 155.2 L579.7 155.2 L581.3 155.4 L582.7 156.0 L584.0 157.2 L585.2 158.8 L586.1 160.7 L586.4 162.3 L586.1 163.8 L585.2 165.3 L584.0 166.7 L582.7 167.8 L581.3 168.7 L579.7 169.3 L578.0 169.7 L576.4 169.8 L574.8 169.6 L573.1 169.0 L571.5 168.3 L570.1 167.3 L568.8 166.1 L567.6 164.6 L566.7 163.0 L566.4 161.5 M619.5 497.2 L620.4 496.4 L621.8 495.3 L624.0 494.5 L625.2 494.3 L626.5 494.2 L627.9 494.2 L629.5 494.1 L631.2 494.2 L633.2 494.2 L635.3 494.2 L636.6 494.2 L638.0 494.3 L639.6 494.3 L641.3 494.4 L643.0 494.5 L644.7 494.6 L646.5 494.7 L648.2 494.8 L649.9 494.8 L651.4 494.9 L652.9 494.9 L654.2 494.8 L655.3 494.7 L657.9 494.1 L659.5 493.3 L660.5 492.2 L661.6 490.9 L662.5 489.7 L663.2 488.4 L663.9 486.9 L664.6 485.4 L665.4 483.9 L666.2 482.7 L667.0 481.5 L667.9 480.3 L668.8 479.0 L669.6 477.7 L670.4 476.4 L671.1 475.1 L671.7 473.8 L672.4 472.5 L672.9 471.1 L673.5 469.5 L674.1 467.6 L674.4 466.3 L674.8 464.9 L675.1 463.3 L675.5 461.5 L675.8 459.8 L676.1 458.0 L676.5 456.3 L676.7 454.8 L677.0 453.4 L677.2 452.2 L677.4 451.3 L678.3 450.6 L679.5 449.7 L680.9 448.7 L682.5 447.5 L684.0 446.3 L685.4 445.1 L686.5 444.1 L687.7 443.1 L688.8 442.1 L689.9 441.0 L691.0 439.9 L692.0 438.7 L692.9 437.5 L693.7 436.2 L694.2 434.9 L694.7 433.4 L695.3 432.0 L695.9 430.5 L696.7 429.0 L697.9 427.5 L698.9 426.5 L700.0 425.6 L701.3 424.6 L702.7 423.6 L704.1 422.6 L705.6 421.5 L707.0 420.5 L708.4 419.5 L709.7 418.4 L710.9 417.4 L711.9 416.3 L713.0 415.0 L714.0 413.6 L714.9 412.2 L715.7 410.8 L716.4 409.4 L717.0 408.0 L717.5 406.6 L717.8 405.2 L718.1 403.8 L718.2 402.2 L718.0 400.5 L717.7 398.8 L717.2 397.1 L716.7 395.5 L716.3 394.1 L715.9 392.9 L715.6 392.0 L716.4 391.4 L717.6 390.6 L718.9 389.6 L720.4 388.6 L721.8 387.4 L723.1 386.2 L724.2 385.1 L725.3 383.9 L726.5 382.7 L727.6 381.4 L728.6 380.1 L729.5 378.8 L730.2 377.5 L730.8 375.8 L731.0 374.2 L731.0 372.5 L731.0 370.7 L731.2 368.7 L731.4 367.3 L731.6 365.8 L731.8 364.2 L732.1 362.6 L732.3 361.0 L732.6 359.3 L732.9 357.7 L733.2 356.2 L733.6 354.5 L734.1 352.9 L734.6 351.3 L735.1 349.7 L735.6 348.1 L735.9 346.5 L736.2 344.9 L736.3 343.3 L736.4 341.7 L736.3 340.1 L736.2 338.5 L736.1 336.9 L735.9 335.3 L735.7 333.6 L735.5 332.1 L735.3 330.5 L735.0 328.9 L734.7 327.3 L734.4 325.7 L734.1 324.1 L733.7 322.6 L733.2 321.1 L732.6 319.5 L731.8 318.0 L731.0 316.5 L730.1 315.1 L729.3 313.7 L728.6 312.3 L728.0 311.0 L727.4 309.3 L727.0 307.6 L726.6 306.0 L726.3 304.5 L726.0 303.0 L725.6 301.2 L725.1 299.4 L724.7 297.7 L724.4 295.9 L724.2 294.3 L724.2 292.7 L724.1 291.0 L724.0 289.4 L723.6 288.0 L722.9 286.5 L722.0 285.3 L720.9 284.1 L719.4 283.0 L718.2 282.2 L716.9 281.4 L715.5 280.7 L714.0 279.9 L712.3 279.2 L710.6 278.5 L709.3 278.0 L707.9 277.5 L706.5 276.9 L705.1 276.4 L703.5 276.0 L701.8 275.5 L700.1 275.1 L698.1 274.8 L696.8 274.6 L695.5 274.5 L694.0 274.3 L692.6 274.2 L691.0 274.1 L689.5 274.0 L687.9 274.0 L686.3 273.9 L684.6 273.8 L683.0 273.8 L681.3 273.7 L679.7 273.7 L678.0 273.6 L676.6 273.6 L675.1 273.5 L673.6 273.5 L672.1 273.5 L670.5 273.5 L669.0 273.5 L667.4 273.5 L665.9 273.5 L664.3 273.5 L662.8 273.5 L661.2 273.4 L659.7 273.4 L658.2 273.4 L656.7 273.3 L655.3 273.2 L653.7 273.1 L652.0 272.9 L650.4 272.8 L648.8 272.6 L647.2 272.4 L645.7 272.2 L644.1 272.0 L642.6 271.7 L641.1 271.5 L639.6 271.3 L638.1 271.1 L636.7 270.9 L635.3 270.7 L633.5 270.4 L631.7 270.2 L629.9 269.9 L628.2 269.6 L626.4 269.3 L624.8 269.0 L623.2 268.8 L621.7 268.6 L620.3 268.5 L619.0 268.4 L616.8 268.5 L615.1 268.7 L613.6 269.1 L612.1 269.6 L610.2 270.2 L608.8 270.6 L607.3 271.1 L605.8 271.6 L604.2 272.1 L602.6 272.7 L600.9 273.3 L599.3 274.0 L597.7 274.7 L596.3 275.3 L594.9 276.0 L593.5 276.7 L592.1 277.5 L590.8 278.2 L589.4 279.0 L588.0 279.8 L586.6 280.6 L585.2 281.5 L583.9 282.3 L582.6 283.1 L581.3 284.0 L579.9 284.9 L578.6 285.8 L577.3 286.7 L576.0 287.6 L574.8 288.5 L573.7 289.4 L572.6 290.2 L571.2 291.3 L570.0 292.5 L568.8 293.5 L567.8 294.6 L566.8 295.7 L565.9 296.7 L565.1 297.8 L564.1 299.3 L563.3 300.7 L562.6 302.1 L562.0 303.6 L561.4 305.3 L560.9 306.9 L560.4 308.5 L559.9 310.3 L559.5 312.1 L559.2 313.7 L558.9 315.3 L558.6 316.9 L558.4 318.4 L558.3 319.7 L558.2 321.2 L558.4 322.8 L558.7 324.3 L559.1 325.9 L559.6 327.5 L560.1 329.2 L560.7 331.0 L561.4 332.8 L561.9 334.2 L562.5 335.8 L563.1 337.4 L563.8 339.0 L564.4 340.6 L565.1 342.1 L565.8 343.6 L566.4 344.9 L567.2 346.4 L568.1 347.6 L569.0 348.7 L569.8 349.8 L570.6 351.0 L571.4 352.4 L572.0 353.6 L572.6 355.0 L573.1 356.4 L573.7 357.9 L574.2 359.4 L574.7 360.9 L575.2 362.3 L575.6 363.7 L576.0 365.4 L576.3 366.9 L576.6 368.4 L576.9 369.9 L577.2 371.7 L577.7 373.7 L578.1 374.9 L578.5 376.2 L579.0 377.6 L579.5 379.0 L580.0 380.5 L580.5 382.0 L581.0 383.5 L581.5 385.1 L582.0 386.7 L582.4 388.4 L582.7 390.0 L582.9 391.5 L583.1 393.0 L583.2 394.6 L583.2 396.3 L583.3 398.0 L583.3 399.7 L583.3 401.4 L583.3 403.0 L583.4 404.6 L583.4 406.2 L583.5 407.6 L583.7 408.9 L583.9 410.1 L584.5 412.2 L585.3 413.8 L586.2 415.1 L587.1 416.2 L588.1 417.4 L588.9 418.8 L589.6 420.2 L590.3 421.6 L591.0 423.0 L591.6 424.4 L592.3 425.9 L592.8 427.4 L593.2 428.9 L593.5 430.4 L593.6 431.9 L593.6 433.5 L593.6 435.1 L593.6 436.7 L593.7 438.4 L593.9 440.1 L594.2 441.5 L594.5 443.1 L594.9 444.6 L595.4 446.3 L595.8 447.9 L596.3 449.5 L596.8 451.0 L597.3 452.5 L597.7 453.9 L598.2 455.5 L598.8 457.0 L599.4 458.3 L599.9 459.6 L600.5 461.0 L601.0 462.4 L601.5 463.9 L601.9 465.4 L602.3 466.9 L602.6 468.5 L603.0 470.1 L603.4 471.8 L603.8 473.4 L604.2 474.9 L604.7 476.4 L605.4 478.0 L606.1 479.5 L606.9 481.0 L607.8 482.4 L608.6 483.8 L609.4 485.1 L610.2 486.4 L611.1 487.9 L611.9 489.3 L612.8 490.6 L613.6 491.9 L614.4 493.0 L615.2 494.0 L616.8 495.5 L618.4 496.5 L619.5 497.2 M754.5 272.8 L754.7 271.4 L755.0 269.7 L755.4 267.8 L755.8 265.8 L756.4 264.1 L757.0 262.8 L758.5 261.0 L760.3 260.0 L762.0 259.8 L763.5 260.5 L764.9 262.1 L765.7 264.1 L765.8 265.6 L765.8 267.4 L765.5 269.3 L765.1 271.2 L764.5 272.8 L763.7 274.2 L762.7 275.6 L761.6 276.8 L760.5 277.8 L759.5 278.4 L757.4 278.1 L755.7 276.6 L754.7 275.2 L754.5 272.8" fill="none" stroke="#000" stroke-width="1.15" stroke-linejoin="round" shape-rendering="geometricPrecision"/>
<path d="M165 357.4H177M169 358.4H176" stroke="#000" stroke-width="1.2" fill="none"/>
<path d="M249.2 168.3L253 167.3L257 167.3L259.8 168.5L256.5 169.6L251 169.6Z" fill="#FFA8A8" stroke="#000" stroke-width="1" shape-rendering="geometricPrecision"/>
<rect x="800" y="50" width="1" height="590" fill="#000"/>
<path d="M840.3 639.5 L840.3 606.6 L841.2 606.6 L841.3 291.4 L842.7 289.3 L843.0 252.0 L843.8 240.0 L845.1 230.2 L846.5 214.9 L847.7 196.3 L849.0 188.0 L849.2 180.1 L850.2 172.9 L851.1 164.4 L852.2 157.2 L853.2 153.0 L854.1 150.2 L855.3 148.9 L856.8 148.9 L858.5 150.9 L859.4 148.3 L860.2 144.1 L861.2 140.1 L863.4 138.0 L864.6 140.3 L865.3 145.8 L866.0 152.6 L866.8 160.2 L867.2 170.4 L867.4 179.7 L868.0 181.0 L868.0 639.5Z" fill="#000"/>
<rect x="73" y="49" width="804" height="2" fill="#000"/>
<rect x="73" y="639" width="804" height="2" fill="#000"/>
<rect x="81" y="49" width="2" height="592" fill="#000"/>
<rect x="868" y="49" width="2" height="592" fill="#000"/>
<rect x="868" y="42" width="2" height="7" fill="#000"/>
<rect x="868" y="641" width="2" height="8" fill="#000"/>
<rect x="812" y="44" width="2" height="5" fill="#000"/>
<rect x="812" y="641" width="2" height="5" fill="#000"/>
<rect x="757" y="42" width="2" height="7" fill="#000"/>
<rect x="757" y="641" width="2" height="8" fill="#000"/>
<rect x="701" y="44" width="2" height="5" fill="#000"/>
<rect x="701" y="641" width="2" height="5" fill="#000"/>
<rect x="646" y="42" width="2" height="7" fill="#000"/>
<rect x="646" y="641" width="2" height="8" fill="#000"/>
<rect x="590" y="44" width="2" height="5" fill="#000"/>
<rect x="590" y="641" width="2" height="5" fill="#000"/>
<rect x="535" y="42" width="2" height="7" fill="#000"/>
<rect x="535" y="641" width="2" height="8" fill="#000"/>
<rect x="479" y="44" width="2" height="5" fill="#000"/>
<rect x="479" y="641" width="2" height="5" fill="#000"/>
<rect x="423" y="42" width="2" height="7" fill="#000"/>
<rect x="423" y="641" width="2" height="8" fill="#000"/>
<rect x="368" y="44" width="2" height="5" fill="#000"/>
<rect x="368" y="641" width="2" height="5" fill="#000"/>
<rect x="312" y="42" width="2" height="7" fill="#000"/>
<rect x="312" y="641" width="2" height="8" fill="#000"/>
<rect x="257" y="44" width="2" height="5" fill="#000"/>
<rect x="257" y="641" width="2" height="5" fill="#000"/>
<rect x="201" y="42" width="2" height="7" fill="#000"/>
<rect x="201" y="641" width="2" height="8" fill="#000"/>
<rect x="145" y="44" width="2" height="5" fill="#000"/>
<rect x="145" y="641" width="2" height="5" fill="#000"/>
<rect x="90" y="42" width="2" height="7" fill="#000"/>
<rect x="90" y="641" width="2" height="8" fill="#000"/>
<rect x="76" y="108" width="5" height="2" fill="#000"/>
<rect x="870" y="108" width="7" height="2" fill="#000"/>
<rect x="73" y="167" width="8" height="2" fill="#000"/>
<rect x="870" y="167" width="7" height="2" fill="#000"/>
<rect x="76" y="226" width="5" height="2" fill="#000"/>
<rect x="870" y="226" width="7" height="2" fill="#000"/>
<rect x="73" y="285" width="8" height="2" fill="#000"/>
<rect x="870" y="285" width="7" height="2" fill="#000"/>
<rect x="76" y="344" width="5" height="2" fill="#000"/>
<rect x="870" y="344" width="7" height="2" fill="#000"/>
<rect x="73" y="403" width="8" height="2" fill="#000"/>
<rect x="870" y="403" width="7" height="2" fill="#000"/>
<rect x="76" y="462" width="5" height="2" fill="#000"/>
<rect x="870" y="462" width="7" height="2" fill="#000"/>
<rect x="73" y="521" width="8" height="2" fill="#000"/>
<rect x="870" y="521" width="7" height="2" fill="#000"/>
<rect x="76" y="580" width="5" height="2" fill="#000"/>
<rect x="870" y="580" width="7" height="2" fill="#000"/>
<path d="M78.1 30h9.2l-4.6 7z" fill="#000"/>
<path d="M104.1 30h9.2l-4.6 7z" fill="#000"/>
<path d="M130.9 30h9.2l-4.6 7z" fill="#000"/>
<path d="M169.8 30h9.2l-4.6 7z" fill="#000"/>
<path d="M209.9 30h9.2l-4.6 7z" fill="#000"/>
<path d="M250.0 30h9.2l-4.6 7z" fill="#000"/>
<path d="M290.1 30h9.2l-4.6 7z" fill="#000"/>
<path d="M330.6 30h9.2l-4.6 7z" fill="#000"/>
<path d="M370.7 30h9.2l-4.6 7z" fill="#000"/>
<path d="M410.8 30h9.2l-4.6 7z" fill="#000"/>
<path d="M450.9 30h9.2l-4.6 7z" fill="#000"/>
<path d="M491.0 30h9.2l-4.6 7z" fill="#000"/>
<path d="M532.1 30h9.2l-4.6 7z" fill="#000"/>
<path d="M572.7 30h9.2l-4.6 7z" fill="#000"/>
<path d="M612.9 30h9.2l-4.6 7z" fill="#000"/>
<path d="M653.2 30h9.2l-4.6 7z" fill="#000"/>
<path d="M672.9 30h9.2l-4.6 7z" fill="#000"/>
<path d="M693.6 30h9.2l-4.6 7z" fill="#000"/>
<path d="M713.8 30h9.2l-4.6 7z" fill="#000"/>
<path d="M734.6 30h9.2l-4.6 7z" fill="#000"/>
<path d="M754.6 30h9.2l-4.6 7z" fill="#000"/>
<path d="M774.8 30h9.2l-4.6 7z" fill="#000"/>
<path d="M795.4 30h9.2l-4.6 7z" fill="#000"/>
<path d="M815.8 30h9.2l-4.6 7z" fill="#000"/>
<path d="M829.4 30h9.2l-4.6 7z" fill="#000"/>
<path d="M843.8 30h9.2l-4.6 7z" fill="#000"/>
<path d="M863.7 30h9.2l-4.6 7z" fill="#000"/>
<g shape-rendering="auto" text-rendering="geometricPrecision">
<text x="212" y="22.6" font-size="25" textLength="525.8" lengthAdjust="spacingAndGlyphs">Temperature anomaly along Line-P - Dec. 2001</text>
<text x="475.2" y="701.6" font-size="22" text-anchor="middle" textLength="267" lengthAdjust="spacingAndGlyphs">Distance along Line-P (km)</text>
<text x="0" y="0" font-size="24.5" textLength="173" lengthAdjust="spacingAndGlyphs" transform="translate(22.9 431.6) rotate(-90)">Pressure (dbar)</text>
<text x="869.0" y="666.6" font-size="20" text-anchor="middle">0</text>
<text x="757.8" y="666.6" font-size="20" text-anchor="middle">200</text>
<text x="646.7" y="666.6" font-size="20" text-anchor="middle">400</text>
<text x="535.5" y="666.6" font-size="20" text-anchor="middle">600</text>
<text x="424.4" y="666.6" font-size="20" text-anchor="middle">800</text>
<text x="313.2" y="666.6" font-size="20" text-anchor="middle">1000</text>
<text x="202.0" y="666.6" font-size="20" text-anchor="middle">1200</text>
<text x="90.9" y="666.6" font-size="20" text-anchor="middle">1400</text>
<text x="73" y="56.9" font-size="20" text-anchor="end">0</text>
<text x="73" y="174.8" font-size="20" text-anchor="end">100</text>
<text x="73" y="292.8" font-size="20" text-anchor="end">200</text>
<text x="73" y="410.8" font-size="20" text-anchor="end">300</text>
<text x="73" y="528.9" font-size="20" text-anchor="end">400</text>
<text x="73" y="646.9" font-size="20" text-anchor="end">500</text>
<clipPath id="dc"><rect x="83" y="51" width="717.5" height="588"/></clipPath><g clip-path="url(#dc)">
<text x="0" y="0" font-size="15.5" font-weight="bold" stroke="#000" stroke-width="0.25" text-anchor="middle" transform="translate(142.2 144.3) rotate(8) scale(.9 1)" dy="5.5">0</text>
<text x="0" y="0" font-size="15.5" font-weight="bold" stroke="#000" stroke-width="0.25" text-anchor="middle" transform="translate(355.6 153.3) rotate(0) scale(.9 1)" dy="5.5">0</text>
<text x="0" y="0" font-size="15.5" font-weight="bold" stroke="#000" stroke-width="0.25" text-anchor="middle" transform="translate(568.9 146.5) rotate(-5) scale(.9 1)" dy="5.5">0</text>
<text x="0" y="0" font-size="15.5" font-weight="bold" stroke="#000" stroke-width="0.25" text-anchor="middle" transform="translate(457.4 169.8) rotate(0) scale(.9 1)" dy="5.5">0</text>
<text x="0" y="0" font-size="15.5" font-weight="bold" stroke="#000" stroke-width="0.25" text-anchor="middle" transform="translate(417.8 249.7) rotate(20) scale(.9 1)" dy="5.5">0</text>
<text x="0" y="0" font-size="15.5" font-weight="bold" stroke="#000" stroke-width="0.25" text-anchor="middle" transform="translate(604.0 248.2) rotate(-30) scale(.9 1)" dy="5.5">0</text>
<text x="0" y="0" font-size="15.5" font-weight="bold" stroke="#000" stroke-width="0.25" text-anchor="middle" transform="translate(800.3 221.2) rotate(25) scale(.9 1)" dy="5.5">0</text>
<text x="0" y="0" font-size="15.5" font-weight="bold" stroke="#000" stroke-width="0.25" text-anchor="middle" transform="translate(693.8 123.2) rotate(-15) scale(.9 1)" dy="5.5">0</text>
<text x="0" y="0" font-size="15.5" font-weight="bold" stroke="#000" stroke-width="0.25" text-anchor="middle" transform="translate(142.2 214.2) rotate(-8) scale(.9 1)" dy="5.5">0</text>
<text x="0" y="0" font-size="15.5" font-weight="bold" stroke="#000" stroke-width="0.25" text-anchor="middle" transform="translate(795.6 380.2) rotate(-50) scale(.9 1)" dy="5.5">0</text>
<text x="0" y="0" font-size="15.5" font-weight="bold" stroke="#000" stroke-width="0.25" text-anchor="middle" transform="translate(490.5 361.2) rotate(-90) scale(.9 1)" dy="5.5">0</text>
<text x="0" y="0" font-size="15.5" font-weight="bold" stroke="#000" stroke-width="0.25" text-anchor="middle" transform="translate(224.2 116.0) rotate(24) scale(.9 1)" dy="5.5">-1</text>
<text x="0" y="0" font-size="15.5" font-weight="bold" stroke="#000" stroke-width="0.25" text-anchor="middle" transform="translate(437.7 125.4) rotate(0) scale(.9 1)" dy="5.5">-1</text>
<text x="0" y="0" font-size="15.5" font-weight="bold" stroke="#000" stroke-width="0.25" text-anchor="middle" transform="translate(655.3 113.2) rotate(-5) scale(.9 1)" dy="5.5">-1</text>
<text x="0" y="0" font-size="15.5" font-weight="bold" stroke="#000" stroke-width="0.25" text-anchor="middle" transform="translate(738.4 145.6) rotate(50) scale(.9 1)" dy="5.5">1</text>
</g>
</g>
</svg>
</body></html>
